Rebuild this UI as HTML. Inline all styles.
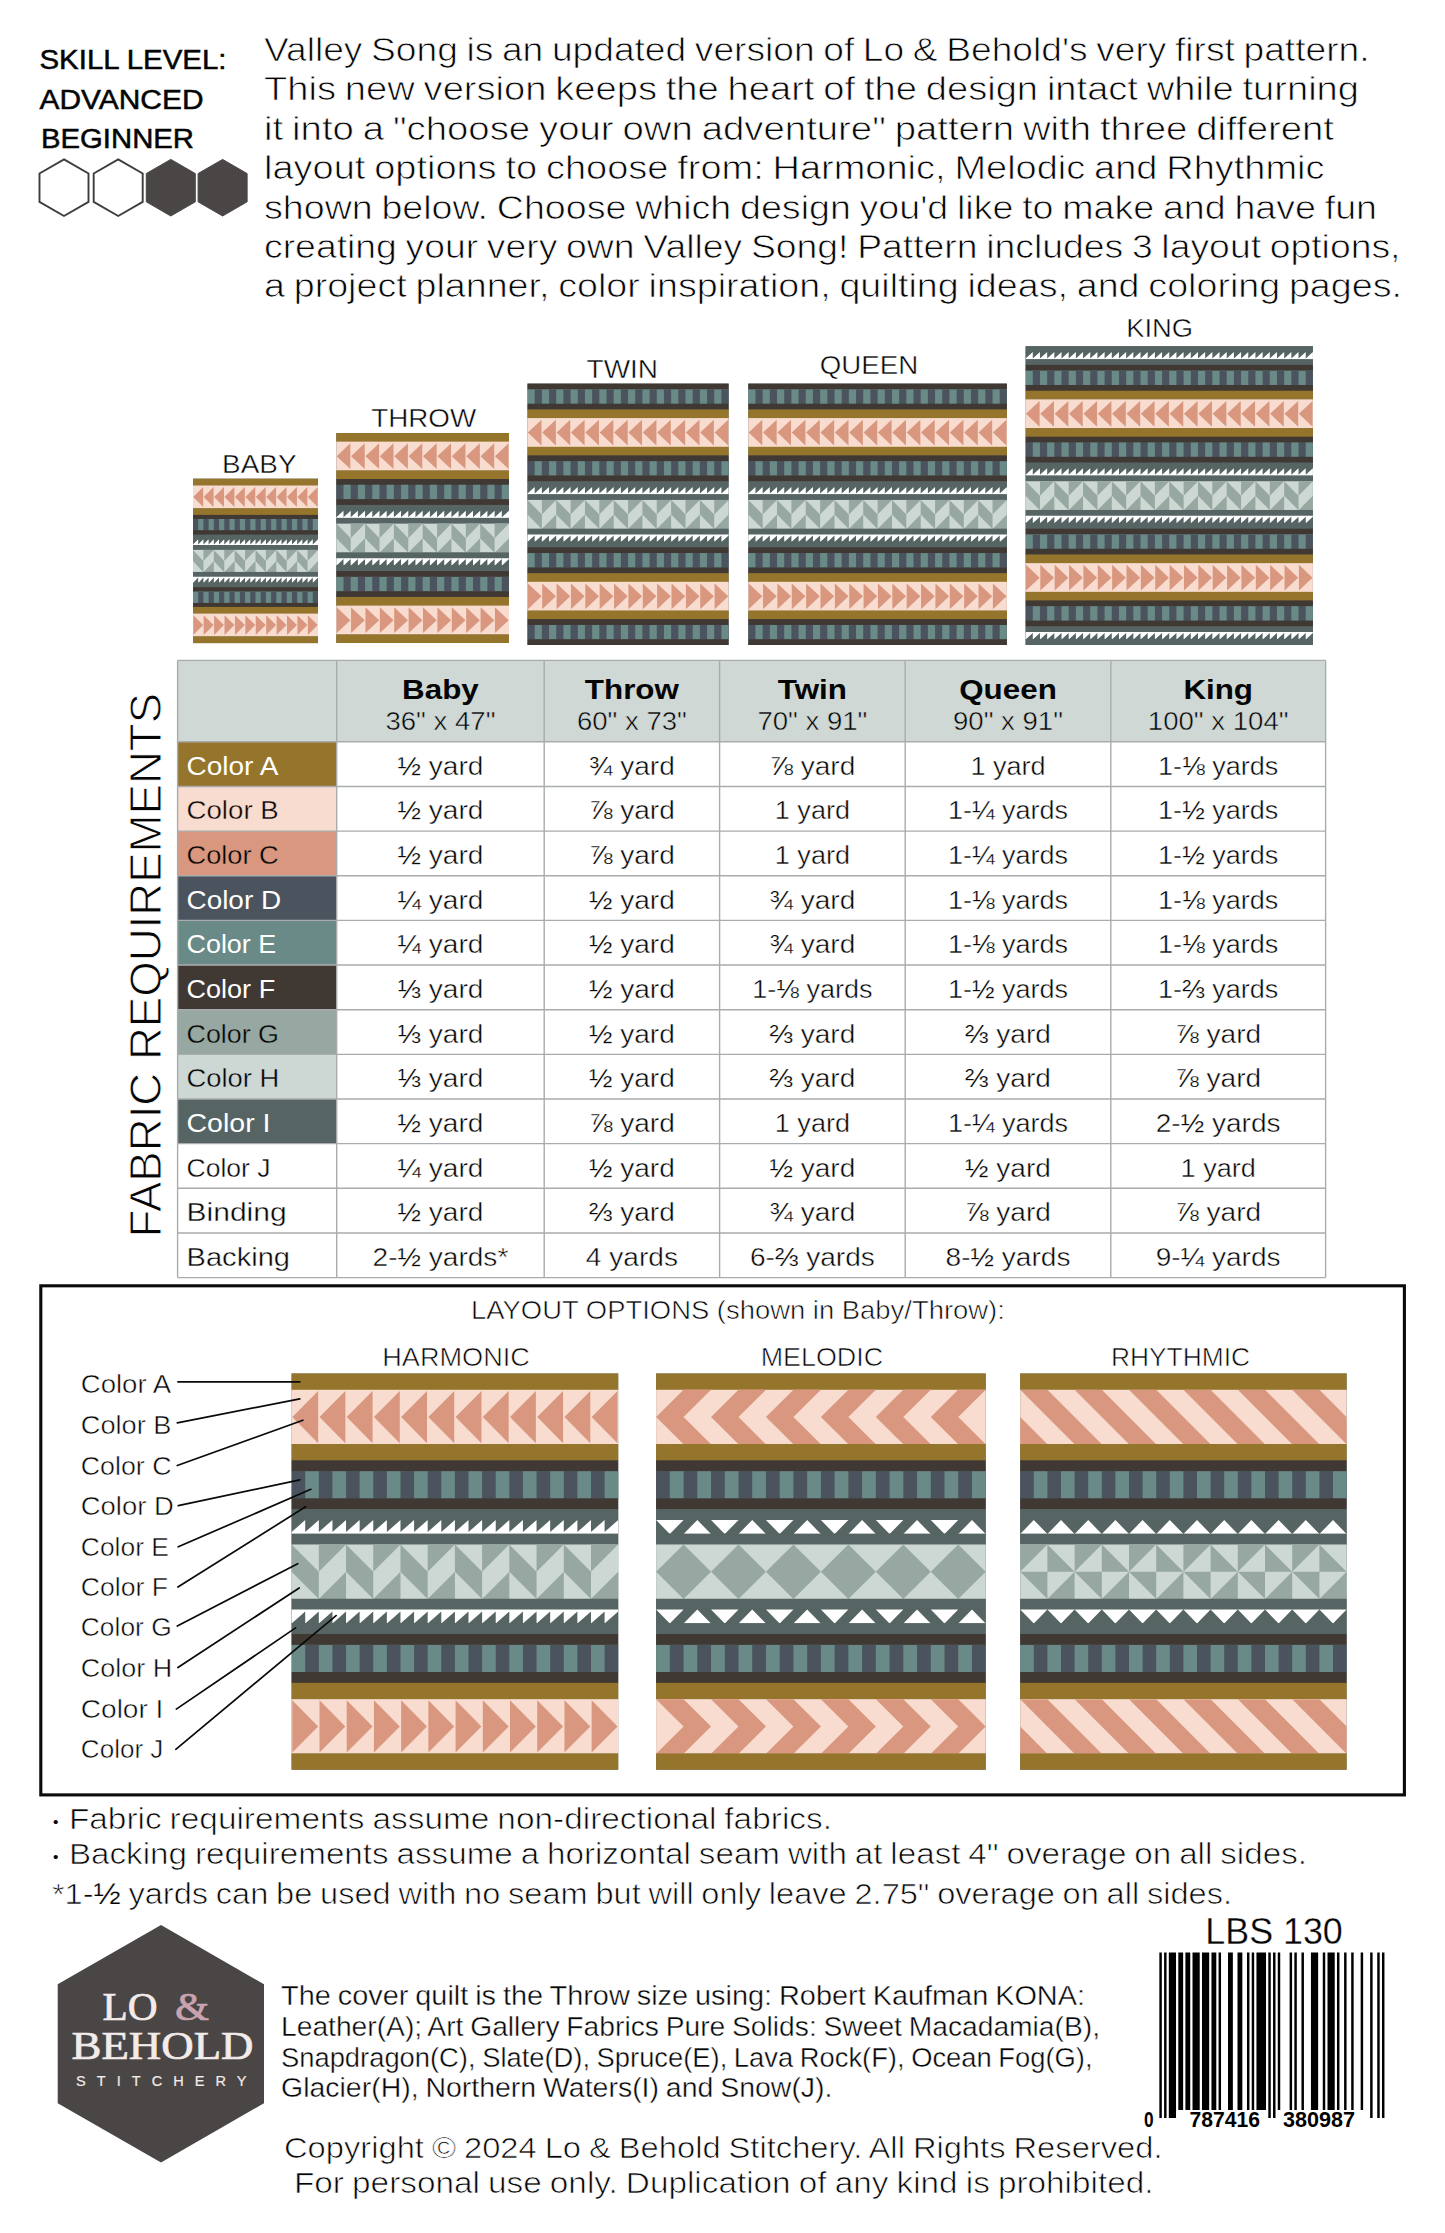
<!DOCTYPE html>
<html lang="en"><head><meta charset="utf-8"><title>Valley Song Quilt Pattern - Back Cover</title>
<style>html,body{margin:0;padding:0;background:#fff}body{width:1445px;height:2233px;overflow:hidden}svg{display:block}text{white-space:pre}</style>
</head><body>
<svg width="1445" height="2233" viewBox="0 0 1445 2233" font-family="Liberation Sans, Arial, sans-serif" fill="#050505">
<rect x="0" y="0" width="1445" height="2233" fill="#fff"/>
<g id="skill">
<text x="39.5" y="69" font-size="27" textLength="187" lengthAdjust="spacingAndGlyphs" stroke="#050505" stroke-width="0.5">SKILL LEVEL:</text>
<text x="39.5" y="108.7" font-size="27" textLength="164" lengthAdjust="spacingAndGlyphs" stroke="#050505" stroke-width="0.5">ADVANCED</text>
<text x="41" y="147.7" font-size="27" textLength="153" lengthAdjust="spacingAndGlyphs" stroke="#050505" stroke-width="0.5">BEGINNER</text>
<path d="M64 159.4 88.51 173.55 88.51 201.85 64 216 39.49 201.85 39.49 173.55Z" fill="#fff" stroke="#3f3c3c" stroke-width="1.9"/>
<path d="M118.2 159.4 142.71 173.55 142.71 201.85 118.2 216 93.69 201.85 93.69 173.55Z" fill="#fff" stroke="#3f3c3c" stroke-width="1.9"/>
<path d="M170.8 159.4 195.31 173.55 195.31 201.85 170.8 216 146.29 201.85 146.29 173.55Z" fill="#4A4646" stroke="#4A4646" stroke-width="1"/>
<path d="M222.6 159.4 247.11 173.55 247.11 201.85 222.6 216 198.09 201.85 198.09 173.55Z" fill="#4A4646" stroke="#4A4646" stroke-width="1"/>
</g>
<g id="intro">
<text x="264" y="60.7" font-size="33" textLength="1105.5" lengthAdjust="spacingAndGlyphs" word-spacing="-1.5" stroke="#fff" stroke-width="0.75">Valley Song is an updated version of Lo &amp; Behold's very first pattern.</text>
<text x="264" y="100.15" font-size="33" textLength="1095" lengthAdjust="spacingAndGlyphs" word-spacing="-1.5" stroke="#fff" stroke-width="0.75">This new version keeps the heart of the design intact while turning</text>
<text x="264" y="139.6" font-size="33" textLength="1070" lengthAdjust="spacingAndGlyphs" word-spacing="-1.5" stroke="#fff" stroke-width="0.75">it into a "choose your own adventure" pattern with three different</text>
<text x="264" y="179.05" font-size="33" textLength="1060.5" lengthAdjust="spacingAndGlyphs" word-spacing="-1.5" stroke="#fff" stroke-width="0.75">layout options to choose from: Harmonic, Melodic and Rhythmic</text>
<text x="264" y="218.5" font-size="33" textLength="1113" lengthAdjust="spacingAndGlyphs" word-spacing="-1.5" stroke="#fff" stroke-width="0.75">shown below. Choose which design you'd like to make and have fun</text>
<text x="264" y="257.95" font-size="33" textLength="1136.5" lengthAdjust="spacingAndGlyphs" word-spacing="-1.5" stroke="#fff" stroke-width="0.75">creating your very own Valley Song! Pattern includes 3 layout options,</text>
<text x="264" y="297.4" font-size="33" textLength="1138" lengthAdjust="spacingAndGlyphs" word-spacing="-1.5" stroke="#fff" stroke-width="0.75">a project planner, color inspiration, quilting ideas, and coloring pages.</text>
</g>
<g id="sizes">
<text x="259.3" y="472.6" font-size="26.2" text-anchor="middle" textLength="74.5" lengthAdjust="spacingAndGlyphs" stroke="#fff" stroke-width="0.45">BABY</text>
<text x="423.7" y="427.2" font-size="26.2" text-anchor="middle" textLength="105" lengthAdjust="spacingAndGlyphs" stroke="#fff" stroke-width="0.45">THROW</text>
<text x="622.3" y="378.2" font-size="26.2" text-anchor="middle" textLength="71.5" lengthAdjust="spacingAndGlyphs" stroke="#fff" stroke-width="0.45">TWIN</text>
<text x="869" y="374.2" font-size="26.2" text-anchor="middle" textLength="98.5" lengthAdjust="spacingAndGlyphs" stroke="#fff" stroke-width="0.45">QUEEN</text>
<text x="1159.7" y="337.4" font-size="26.2" text-anchor="middle" textLength="67" lengthAdjust="spacingAndGlyphs" stroke="#fff" stroke-width="0.45">KING</text>
<rect x="193" y="478.7" width="125" height="164.4" fill="#566564"/>
<rect x="193" y="478.7" width="125" height="7.08" fill="#95742B"/>
<rect x="193" y="485.48" width="125" height="23.03" fill="#F8DCCF"/>
<path d="M203.16 487.08 203.16 506.91 193.26 496.99ZM213.57 487.08 213.57 506.91 203.68 496.99ZM223.99 487.08 223.99 506.91 214.09 496.99ZM234.41 487.08 234.41 506.91 224.51 496.99ZM244.82 487.08 244.82 506.91 234.93 496.99ZM255.24 487.08 255.24 506.91 245.34 496.99ZM265.66 487.08 265.66 506.91 255.76 496.99ZM276.07 487.08 276.07 506.91 266.18 496.99ZM286.49 487.08 286.49 506.91 276.59 496.99ZM296.91 487.08 296.91 506.91 287.01 496.99ZM307.32 487.08 307.32 506.91 297.43 496.99ZM317.74 487.08 317.74 506.91 307.84 496.99Z" fill="#D9977F"/>
<rect x="193" y="508.21" width="125" height="6.98" fill="#95742B"/>
<rect x="193" y="514.89" width="125" height="4.29" fill="#403833"/>
<rect x="193" y="518.88" width="125" height="11.67" fill="#4B545E"/>
<path d="M198.21 518.88h5.21v11.67h-5.21zM208.62 518.88h5.21v11.67h-5.21zM219.04 518.88h5.21v11.67h-5.21zM229.46 518.88h5.21v11.67h-5.21zM239.88 518.88h5.21v11.67h-5.21zM250.29 518.88h5.21v11.67h-5.21zM260.71 518.88h5.21v11.67h-5.21zM271.12 518.88h5.21v11.67h-5.21zM281.54 518.88h5.21v11.67h-5.21zM291.96 518.88h5.21v11.67h-5.21zM302.38 518.88h5.21v11.67h-5.21zM312.79 518.88h5.21v11.67h-5.21z" fill="#698A86"/>
<rect x="193" y="530.24" width="125" height="4.69" fill="#403833"/>
<rect x="193" y="534.63" width="125" height="4.89" fill="#566564"/>
<rect x="193" y="539.22" width="125" height="6.08" fill="#566564"/>
<path d="M193 544.51h125v0.79h-125zM193 544.51 198.21 539.22 198.21 544.51ZM198.21 544.51 203.42 539.22 203.42 544.51ZM203.42 544.51 208.62 539.22 208.62 544.51ZM208.62 544.51 213.83 539.22 213.83 544.51ZM213.83 544.51 219.04 539.22 219.04 544.51ZM219.04 544.51 224.25 539.22 224.25 544.51ZM224.25 544.51 229.46 539.22 229.46 544.51ZM229.46 544.51 234.67 539.22 234.67 544.51ZM234.67 544.51 239.88 539.22 239.88 544.51ZM239.88 544.51 245.08 539.22 245.08 544.51ZM245.08 544.51 250.29 539.22 250.29 544.51ZM250.29 544.51 255.5 539.22 255.5 544.51ZM255.5 544.51 260.71 539.22 260.71 544.51ZM260.71 544.51 265.92 539.22 265.92 544.51ZM265.92 544.51 271.12 539.22 271.12 544.51ZM271.12 544.51 276.33 539.22 276.33 544.51ZM276.33 544.51 281.54 539.22 281.54 544.51ZM281.54 544.51 286.75 539.22 286.75 544.51ZM286.75 544.51 291.96 539.22 291.96 544.51ZM291.96 544.51 297.17 539.22 297.17 544.51ZM297.17 544.51 302.37 539.22 302.37 544.51ZM302.38 544.51 307.58 539.22 307.58 544.51ZM307.58 544.51 312.79 539.22 312.79 544.51ZM312.79 544.51 318 539.22 318 544.51Z" fill="#FFFFFF"/>
<rect x="193" y="545" width="125" height="5.19" fill="#566564"/>
<rect x="193" y="549.88" width="125" height="22.33" fill="#CDD8D5"/>
<path d="M193 549.88 203.42 561.05 203.42 572.22 193 561.05ZM203.42 549.88 213.83 549.88 203.42 561.05ZM213.83 561.05 213.83 572.22 203.42 572.22ZM213.83 549.88 224.25 561.05 224.25 572.22 213.83 561.05ZM224.25 549.88 234.67 549.88 224.25 561.05ZM234.67 561.05 234.67 572.22 224.25 572.22ZM234.67 549.88 245.08 561.05 245.08 572.22 234.67 561.05ZM245.08 549.88 255.5 549.88 245.08 561.05ZM255.5 561.05 255.5 572.22 245.08 572.22ZM255.5 549.88 265.92 561.05 265.92 572.22 255.5 561.05ZM265.92 549.88 276.33 549.88 265.92 561.05ZM276.33 561.05 276.33 572.22 265.92 572.22ZM276.33 549.88 286.75 561.05 286.75 572.22 276.33 561.05ZM286.75 549.88 297.17 549.88 286.75 561.05ZM297.17 561.05 297.17 572.22 286.75 572.22ZM297.17 549.88 307.58 561.05 307.58 572.22 297.17 561.05ZM307.58 549.88 318 549.88 307.58 561.05ZM318 561.05 318 572.22 307.58 572.22Z" fill="#97A7A2"/>
<rect x="193" y="571.92" width="125" height="5.19" fill="#566564"/>
<rect x="193" y="576.8" width="125" height="6.08" fill="#566564"/>
<path d="M193 576.8h125v0.79h-125zM193 577.59 198.21 577.59 193 582.88ZM198.21 577.59 203.42 577.59 198.21 582.88ZM203.42 577.59 208.62 577.59 203.42 582.88ZM208.62 577.59 213.83 577.59 208.62 582.88ZM213.83 577.59 219.04 577.59 213.83 582.88ZM219.04 577.59 224.25 577.59 219.04 582.88ZM224.25 577.59 229.46 577.59 224.25 582.88ZM229.46 577.59 234.67 577.59 229.46 582.88ZM234.67 577.59 239.88 577.59 234.67 582.88ZM239.88 577.59 245.08 577.59 239.88 582.88ZM245.08 577.59 250.29 577.59 245.08 582.88ZM250.29 577.59 255.5 577.59 250.29 582.88ZM255.5 577.59 260.71 577.59 255.5 582.88ZM260.71 577.59 265.92 577.59 260.71 582.88ZM265.92 577.59 271.12 577.59 265.92 582.88ZM271.12 577.59 276.33 577.59 271.12 582.88ZM276.33 577.59 281.54 577.59 276.33 582.88ZM281.54 577.59 286.75 577.59 281.54 582.88ZM286.75 577.59 291.96 577.59 286.75 582.88ZM291.96 577.59 297.17 577.59 291.96 582.88ZM297.17 577.59 302.37 577.59 297.17 582.88ZM302.38 577.59 307.58 577.59 302.38 582.88ZM307.58 577.59 312.79 577.59 307.58 582.88ZM312.79 577.59 318 577.59 312.79 582.88Z" fill="#FFFFFF"/>
<rect x="193" y="582.58" width="125" height="4.89" fill="#566564"/>
<rect x="193" y="587.17" width="125" height="4.69" fill="#403833"/>
<rect x="193" y="591.56" width="125" height="11.67" fill="#698A86"/>
<path d="M198.21 591.56h5.21v11.67h-5.21zM208.62 591.56h5.21v11.67h-5.21zM219.04 591.56h5.21v11.67h-5.21zM229.46 591.56h5.21v11.67h-5.21zM239.88 591.56h5.21v11.67h-5.21zM250.29 591.56h5.21v11.67h-5.21zM260.71 591.56h5.21v11.67h-5.21zM271.12 591.56h5.21v11.67h-5.21zM281.54 591.56h5.21v11.67h-5.21zM291.96 591.56h5.21v11.67h-5.21zM302.38 591.56h5.21v11.67h-5.21zM312.79 591.56h5.21v11.67h-5.21z" fill="#4B545E"/>
<rect x="193" y="602.92" width="125" height="4.29" fill="#403833"/>
<rect x="193" y="606.91" width="125" height="6.98" fill="#95742B"/>
<rect x="193" y="613.59" width="125" height="23.03" fill="#F8DCCF"/>
<path d="M193.26 615.19 193.26 635.02 203.16 625.11ZM203.68 615.19 203.68 635.02 213.57 625.11ZM214.09 615.19 214.09 635.02 223.99 625.11ZM224.51 615.19 224.51 635.02 234.41 625.11ZM234.93 615.19 234.93 635.02 244.82 625.11ZM245.34 615.19 245.34 635.02 255.24 625.11ZM255.76 615.19 255.76 635.02 265.66 625.11ZM266.18 615.19 266.18 635.02 276.07 625.11ZM276.59 615.19 276.59 635.02 286.49 625.11ZM287.01 615.19 287.01 635.02 296.91 625.11ZM297.43 615.19 297.43 635.02 307.32 625.11ZM307.84 615.19 307.84 635.02 317.74 625.11Z" fill="#D9977F"/>
<rect x="193" y="636.32" width="125" height="6.78" fill="#95742B"/>
<rect x="336.3" y="433" width="172.7" height="210" fill="#566564"/>
<rect x="336.3" y="433" width="172.7" height="8.93" fill="#95742B"/>
<rect x="336.3" y="441.63" width="172.7" height="29.07" fill="#F8DCCF"/>
<path d="M350.33 443.23 350.33 469.1 336.66 456.16ZM364.72 443.23 364.72 469.1 351.05 456.16ZM379.12 443.23 379.12 469.1 365.44 456.16ZM393.51 443.23 393.51 469.1 379.83 456.16ZM407.9 443.23 407.9 469.1 394.23 456.16ZM422.29 443.23 422.29 469.1 408.62 456.16ZM436.68 443.23 436.68 469.1 423.01 456.16ZM451.07 443.23 451.07 469.1 437.4 456.16ZM465.47 443.23 465.47 469.1 451.79 456.16ZM479.86 443.23 479.86 469.1 466.18 456.16ZM494.25 443.23 494.25 469.1 480.58 456.16ZM508.64 443.23 508.64 469.1 494.97 456.16Z" fill="#D9977F"/>
<rect x="336.3" y="470.4" width="172.7" height="8.93" fill="#95742B"/>
<rect x="336.3" y="479.03" width="172.7" height="6.05" fill="#403833"/>
<rect x="336.3" y="484.78" width="172.7" height="14.68" fill="#4B545E"/>
<path d="M343.5 484.78h7.2v14.68h-7.2zM357.89 484.78h7.2v14.68h-7.2zM372.28 484.78h7.2v14.68h-7.2zM386.67 484.78h7.2v14.68h-7.2zM401.06 484.78h7.2v14.68h-7.2zM415.45 484.78h7.2v14.68h-7.2zM429.85 484.78h7.2v14.68h-7.2zM444.24 484.78h7.2v14.68h-7.2zM458.63 484.78h7.2v14.68h-7.2zM473.02 484.78h7.2v14.68h-7.2zM487.41 484.78h7.2v14.68h-7.2zM501.8 484.78h7.2v14.68h-7.2z" fill="#698A86"/>
<rect x="336.3" y="499.16" width="172.7" height="6.05" fill="#403833"/>
<rect x="336.3" y="504.92" width="172.7" height="6.05" fill="#566564"/>
<rect x="336.3" y="510.67" width="172.7" height="7.49" fill="#566564"/>
<path d="M336.3 517.19h172.7v0.97h-172.7zM336.3 517.19 343.5 510.67 343.5 517.19ZM343.5 517.19 350.69 510.67 350.69 517.19ZM350.69 517.19 357.89 510.67 357.89 517.19ZM357.89 517.19 365.08 510.67 365.08 517.19ZM365.08 517.19 372.28 510.67 372.28 517.19ZM372.28 517.19 379.48 510.67 379.48 517.19ZM379.48 517.19 386.67 510.67 386.67 517.19ZM386.67 517.19 393.87 510.67 393.87 517.19ZM393.87 517.19 401.06 510.67 401.06 517.19ZM401.06 517.19 408.26 510.67 408.26 517.19ZM408.26 517.19 415.45 510.67 415.45 517.19ZM415.45 517.19 422.65 510.67 422.65 517.19ZM422.65 517.19 429.85 510.67 429.85 517.19ZM429.85 517.19 437.04 510.67 437.04 517.19ZM437.04 517.19 444.24 510.67 444.24 517.19ZM444.24 517.19 451.43 510.67 451.43 517.19ZM451.43 517.19 458.63 510.67 458.63 517.19ZM458.63 517.19 465.82 510.67 465.82 517.19ZM465.82 517.19 473.02 510.67 473.02 517.19ZM473.02 517.19 480.22 510.67 480.22 517.19ZM480.22 517.19 487.41 510.67 487.41 517.19ZM487.41 517.19 494.61 510.67 494.61 517.19ZM494.61 517.19 501.8 510.67 501.8 517.19ZM501.8 517.19 509 510.67 509 517.19Z" fill="#FFFFFF"/>
<rect x="336.3" y="517.86" width="172.7" height="6.05" fill="#566564"/>
<rect x="336.3" y="523.62" width="172.7" height="29.07" fill="#CDD8D5"/>
<path d="M336.3 523.62 350.69 538.15 350.69 552.68 336.3 538.15ZM350.69 523.62 365.08 523.62 350.69 538.15ZM365.08 538.15 365.08 552.68 350.69 552.68ZM365.08 523.62 379.48 538.15 379.48 552.68 365.08 538.15ZM379.48 523.62 393.87 523.62 379.48 538.15ZM393.87 538.15 393.87 552.68 379.48 552.68ZM393.87 523.62 408.26 538.15 408.26 552.68 393.87 538.15ZM408.26 523.62 422.65 523.62 408.26 538.15ZM422.65 538.15 422.65 552.68 408.26 552.68ZM422.65 523.62 437.04 538.15 437.04 552.68 422.65 538.15ZM437.04 523.62 451.43 523.62 437.04 538.15ZM451.43 538.15 451.43 552.68 437.04 552.68ZM451.43 523.62 465.82 538.15 465.82 552.68 451.43 538.15ZM465.82 523.62 480.22 523.62 465.82 538.15ZM480.22 538.15 480.22 552.68 465.82 552.68ZM480.22 523.62 494.61 538.15 494.61 552.68 480.22 538.15ZM494.61 523.62 509 523.62 494.61 538.15ZM509 538.15 509 552.68 494.61 552.68Z" fill="#97A7A2"/>
<rect x="336.3" y="552.38" width="172.7" height="6.05" fill="#566564"/>
<rect x="336.3" y="558.14" width="172.7" height="7.49" fill="#566564"/>
<path d="M336.3 558.14h172.7v0.97h-172.7zM336.3 559.11 343.5 559.11 336.3 565.63ZM343.5 559.11 350.69 559.11 343.5 565.63ZM350.69 559.11 357.89 559.11 350.69 565.63ZM357.89 559.11 365.08 559.11 357.89 565.63ZM365.08 559.11 372.28 559.11 365.08 565.63ZM372.28 559.11 379.48 559.11 372.28 565.63ZM379.48 559.11 386.67 559.11 379.48 565.63ZM386.67 559.11 393.87 559.11 386.67 565.63ZM393.87 559.11 401.06 559.11 393.87 565.63ZM401.06 559.11 408.26 559.11 401.06 565.63ZM408.26 559.11 415.45 559.11 408.26 565.63ZM415.45 559.11 422.65 559.11 415.45 565.63ZM422.65 559.11 429.85 559.11 422.65 565.63ZM429.85 559.11 437.04 559.11 429.85 565.63ZM437.04 559.11 444.24 559.11 437.04 565.63ZM444.24 559.11 451.43 559.11 444.24 565.63ZM451.43 559.11 458.63 559.11 451.43 565.63ZM458.63 559.11 465.82 559.11 458.63 565.63ZM465.82 559.11 473.02 559.11 465.82 565.63ZM473.02 559.11 480.22 559.11 473.02 565.63ZM480.22 559.11 487.41 559.11 480.22 565.63ZM487.41 559.11 494.61 559.11 487.41 565.63ZM494.61 559.11 501.8 559.11 494.61 565.63ZM501.8 559.11 509 559.11 501.8 565.63Z" fill="#FFFFFF"/>
<rect x="336.3" y="565.33" width="172.7" height="6.05" fill="#566564"/>
<rect x="336.3" y="571.08" width="172.7" height="6.05" fill="#403833"/>
<rect x="336.3" y="576.84" width="172.7" height="14.68" fill="#698A86"/>
<path d="M343.5 576.84h7.2v14.68h-7.2zM357.89 576.84h7.2v14.68h-7.2zM372.28 576.84h7.2v14.68h-7.2zM386.67 576.84h7.2v14.68h-7.2zM401.06 576.84h7.2v14.68h-7.2zM415.45 576.84h7.2v14.68h-7.2zM429.85 576.84h7.2v14.68h-7.2zM444.24 576.84h7.2v14.68h-7.2zM458.63 576.84h7.2v14.68h-7.2zM473.02 576.84h7.2v14.68h-7.2zM487.41 576.84h7.2v14.68h-7.2zM501.8 576.84h7.2v14.68h-7.2z" fill="#4B545E"/>
<rect x="336.3" y="591.22" width="172.7" height="6.05" fill="#403833"/>
<rect x="336.3" y="596.97" width="172.7" height="8.93" fill="#95742B"/>
<rect x="336.3" y="605.6" width="172.7" height="29.07" fill="#F8DCCF"/>
<path d="M336.66 607.2 336.66 633.07 350.33 620.14ZM351.05 607.2 351.05 633.07 364.72 620.14ZM365.44 607.2 365.44 633.07 379.12 620.14ZM379.83 607.2 379.83 633.07 393.51 620.14ZM394.23 607.2 394.23 633.07 407.9 620.14ZM408.62 607.2 408.62 633.07 422.29 620.14ZM423.01 607.2 423.01 633.07 436.68 620.14ZM437.4 607.2 437.4 633.07 451.07 620.14ZM451.79 607.2 451.79 633.07 465.47 620.14ZM466.18 607.2 466.18 633.07 479.86 620.14ZM480.58 607.2 480.58 633.07 494.25 620.14ZM494.97 607.2 494.97 633.07 508.64 620.14Z" fill="#D9977F"/>
<rect x="336.3" y="634.37" width="172.7" height="8.63" fill="#95742B"/>
<rect x="527.5" y="383.6" width="201.1" height="261.4" fill="#566564"/>
<rect x="527.5" y="383.6" width="201.1" height="6.05" fill="#403833"/>
<rect x="527.5" y="389.35" width="201.1" height="14.66" fill="#698A86"/>
<path d="M534.68 389.35h7.18v14.66h-7.18zM549.05 389.35h7.18v14.66h-7.18zM563.41 389.35h7.18v14.66h-7.18zM577.77 389.35h7.18v14.66h-7.18zM592.14 389.35h7.18v14.66h-7.18zM606.5 389.35h7.18v14.66h-7.18zM620.87 389.35h7.18v14.66h-7.18zM635.23 389.35h7.18v14.66h-7.18zM649.6 389.35h7.18v14.66h-7.18zM663.96 389.35h7.18v14.66h-7.18zM678.33 389.35h7.18v14.66h-7.18zM692.69 389.35h7.18v14.66h-7.18zM707.05 389.35h7.18v14.66h-7.18zM721.42 389.35h7.18v14.66h-7.18z" fill="#4B545E"/>
<rect x="527.5" y="403.71" width="201.1" height="6.05" fill="#403833"/>
<rect x="527.5" y="409.45" width="201.1" height="8.92" fill="#95742B"/>
<rect x="527.5" y="418.07" width="201.1" height="29.03" fill="#F8DCCF"/>
<path d="M541.51 419.67 541.51 445.5 527.86 432.58ZM555.87 419.67 555.87 445.5 542.22 432.58ZM570.23 419.67 570.23 445.5 556.59 432.58ZM584.6 419.67 584.6 445.5 570.95 432.58ZM598.96 419.67 598.96 445.5 585.32 432.58ZM613.33 419.67 613.33 445.5 599.68 432.58ZM627.69 419.67 627.69 445.5 614.04 432.58ZM642.06 419.67 642.06 445.5 628.41 432.58ZM656.42 419.67 656.42 445.5 642.77 432.58ZM670.78 419.67 670.78 445.5 657.14 432.58ZM685.15 419.67 685.15 445.5 671.5 432.58ZM699.51 419.67 699.51 445.5 685.87 432.58ZM713.88 419.67 713.88 445.5 700.23 432.58ZM728.24 419.67 728.24 445.5 714.59 432.58Z" fill="#D9977F"/>
<rect x="527.5" y="446.8" width="201.1" height="8.92" fill="#95742B"/>
<rect x="527.5" y="455.41" width="201.1" height="6.05" fill="#403833"/>
<rect x="527.5" y="461.16" width="201.1" height="14.66" fill="#4B545E"/>
<path d="M534.68 461.16h7.18v14.66h-7.18zM549.05 461.16h7.18v14.66h-7.18zM563.41 461.16h7.18v14.66h-7.18zM577.77 461.16h7.18v14.66h-7.18zM592.14 461.16h7.18v14.66h-7.18zM606.5 461.16h7.18v14.66h-7.18zM620.87 461.16h7.18v14.66h-7.18zM635.23 461.16h7.18v14.66h-7.18zM649.6 461.16h7.18v14.66h-7.18zM663.96 461.16h7.18v14.66h-7.18zM678.33 461.16h7.18v14.66h-7.18zM692.69 461.16h7.18v14.66h-7.18zM707.05 461.16h7.18v14.66h-7.18zM721.42 461.16h7.18v14.66h-7.18z" fill="#698A86"/>
<rect x="527.5" y="475.52" width="201.1" height="6.05" fill="#403833"/>
<rect x="527.5" y="481.27" width="201.1" height="6.05" fill="#566564"/>
<rect x="527.5" y="487.01" width="201.1" height="7.48" fill="#566564"/>
<path d="M527.5 493.52h201.1v0.97h-201.1zM527.5 493.52 534.68 487.01 534.68 493.52ZM534.68 493.52 541.86 487.01 541.86 493.52ZM541.86 493.52 549.05 487.01 549.05 493.52ZM549.05 493.52 556.23 487.01 556.23 493.52ZM556.23 493.52 563.41 487.01 563.41 493.52ZM563.41 493.52 570.59 487.01 570.59 493.52ZM570.59 493.52 577.77 487.01 577.77 493.52ZM577.77 493.52 584.96 487.01 584.96 493.52ZM584.96 493.52 592.14 487.01 592.14 493.52ZM592.14 493.52 599.32 487.01 599.32 493.52ZM599.32 493.52 606.5 487.01 606.5 493.52ZM606.5 493.52 613.69 487.01 613.69 493.52ZM613.69 493.52 620.87 487.01 620.87 493.52ZM620.87 493.52 628.05 487.01 628.05 493.52ZM628.05 493.52 635.23 487.01 635.23 493.52ZM635.23 493.52 642.41 487.01 642.41 493.52ZM642.41 493.52 649.6 487.01 649.6 493.52ZM649.6 493.52 656.78 487.01 656.78 493.52ZM656.78 493.52 663.96 487.01 663.96 493.52ZM663.96 493.52 671.14 487.01 671.14 493.52ZM671.14 493.52 678.32 487.01 678.32 493.52ZM678.33 493.52 685.51 487.01 685.51 493.52ZM685.51 493.52 692.69 487.01 692.69 493.52ZM692.69 493.52 699.87 487.01 699.87 493.52ZM699.87 493.52 707.05 487.01 707.05 493.52ZM707.05 493.52 714.24 487.01 714.24 493.52ZM714.24 493.52 721.42 487.01 721.42 493.52ZM721.42 493.52 728.6 487.01 728.6 493.52Z" fill="#FFFFFF"/>
<rect x="527.5" y="494.19" width="201.1" height="6.05" fill="#566564"/>
<rect x="527.5" y="499.94" width="201.1" height="29.03" fill="#CDD8D5"/>
<path d="M527.5 499.94 541.86 514.45 541.86 528.96 527.5 514.45ZM541.86 499.94 556.23 499.94 541.86 514.45ZM556.23 514.45 556.23 528.96 541.86 528.96ZM556.23 499.94 570.59 514.45 570.59 528.96 556.23 514.45ZM570.59 499.94 584.96 499.94 570.59 514.45ZM584.96 514.45 584.96 528.96 570.59 528.96ZM584.96 499.94 599.32 514.45 599.32 528.96 584.96 514.45ZM599.32 499.94 613.69 499.94 599.32 514.45ZM613.69 514.45 613.69 528.96 599.32 528.96ZM613.69 499.94 628.05 514.45 628.05 528.96 613.69 514.45ZM628.05 499.94 642.41 499.94 628.05 514.45ZM642.41 514.45 642.41 528.96 628.05 528.96ZM642.41 499.94 656.78 514.45 656.78 528.96 642.41 514.45ZM656.78 499.94 671.14 499.94 656.78 514.45ZM671.14 514.45 671.14 528.96 656.78 528.96ZM671.14 499.94 685.51 514.45 685.51 528.96 671.14 514.45ZM685.51 499.94 699.87 499.94 685.51 514.45ZM699.87 514.45 699.87 528.96 685.51 528.96ZM699.87 499.94 714.24 514.45 714.24 528.96 699.87 514.45ZM714.24 499.94 728.6 499.94 714.24 514.45ZM728.6 514.45 728.6 528.96 714.24 528.96Z" fill="#97A7A2"/>
<rect x="527.5" y="528.66" width="201.1" height="6.05" fill="#566564"/>
<rect x="527.5" y="534.41" width="201.1" height="7.48" fill="#566564"/>
<path d="M527.5 534.41h201.1v0.97h-201.1zM527.5 535.38 534.68 535.38 527.5 541.89ZM534.68 535.38 541.86 535.38 534.68 541.89ZM541.86 535.38 549.05 535.38 541.86 541.89ZM549.05 535.38 556.23 535.38 549.05 541.89ZM556.23 535.38 563.41 535.38 556.23 541.89ZM563.41 535.38 570.59 535.38 563.41 541.89ZM570.59 535.38 577.77 535.38 570.59 541.89ZM577.77 535.38 584.96 535.38 577.77 541.89ZM584.96 535.38 592.14 535.38 584.96 541.89ZM592.14 535.38 599.32 535.38 592.14 541.89ZM599.32 535.38 606.5 535.38 599.32 541.89ZM606.5 535.38 613.69 535.38 606.5 541.89ZM613.69 535.38 620.87 535.38 613.69 541.89ZM620.87 535.38 628.05 535.38 620.87 541.89ZM628.05 535.38 635.23 535.38 628.05 541.89ZM635.23 535.38 642.41 535.38 635.23 541.89ZM642.41 535.38 649.6 535.38 642.41 541.89ZM649.6 535.38 656.78 535.38 649.6 541.89ZM656.78 535.38 663.96 535.38 656.78 541.89ZM663.96 535.38 671.14 535.38 663.96 541.89ZM671.14 535.38 678.32 535.38 671.14 541.89ZM678.33 535.38 685.51 535.38 678.33 541.89ZM685.51 535.38 692.69 535.38 685.51 541.89ZM692.69 535.38 699.87 535.38 692.69 541.89ZM699.87 535.38 707.05 535.38 699.87 541.89ZM707.05 535.38 714.24 535.38 707.05 541.89ZM714.24 535.38 721.42 535.38 714.24 541.89ZM721.42 535.38 728.6 535.38 721.42 541.89Z" fill="#FFFFFF"/>
<rect x="527.5" y="541.59" width="201.1" height="6.05" fill="#566564"/>
<rect x="527.5" y="547.33" width="201.1" height="6.05" fill="#403833"/>
<rect x="527.5" y="553.08" width="201.1" height="14.66" fill="#698A86"/>
<path d="M534.68 553.08h7.18v14.66h-7.18zM549.05 553.08h7.18v14.66h-7.18zM563.41 553.08h7.18v14.66h-7.18zM577.77 553.08h7.18v14.66h-7.18zM592.14 553.08h7.18v14.66h-7.18zM606.5 553.08h7.18v14.66h-7.18zM620.87 553.08h7.18v14.66h-7.18zM635.23 553.08h7.18v14.66h-7.18zM649.6 553.08h7.18v14.66h-7.18zM663.96 553.08h7.18v14.66h-7.18zM678.33 553.08h7.18v14.66h-7.18zM692.69 553.08h7.18v14.66h-7.18zM707.05 553.08h7.18v14.66h-7.18zM721.42 553.08h7.18v14.66h-7.18z" fill="#4B545E"/>
<rect x="527.5" y="567.44" width="201.1" height="6.05" fill="#403833"/>
<rect x="527.5" y="573.19" width="201.1" height="8.92" fill="#95742B"/>
<rect x="527.5" y="581.8" width="201.1" height="29.03" fill="#F8DCCF"/>
<path d="M527.86 583.4 527.86 609.23 541.51 596.32ZM542.22 583.4 542.22 609.23 555.87 596.32ZM556.59 583.4 556.59 609.23 570.23 596.32ZM570.95 583.4 570.95 609.23 584.6 596.32ZM585.32 583.4 585.32 609.23 598.96 596.32ZM599.68 583.4 599.68 609.23 613.33 596.32ZM614.04 583.4 614.04 609.23 627.69 596.32ZM628.41 583.4 628.41 609.23 642.06 596.32ZM642.77 583.4 642.77 609.23 656.42 596.32ZM657.14 583.4 657.14 609.23 670.78 596.32ZM671.5 583.4 671.5 609.23 685.15 596.32ZM685.87 583.4 685.87 609.23 699.51 596.32ZM700.23 583.4 700.23 609.23 713.88 596.32ZM714.59 583.4 714.59 609.23 728.24 596.32Z" fill="#D9977F"/>
<rect x="527.5" y="610.53" width="201.1" height="8.92" fill="#95742B"/>
<rect x="527.5" y="619.15" width="201.1" height="6.05" fill="#403833"/>
<rect x="527.5" y="624.89" width="201.1" height="14.66" fill="#4B545E"/>
<path d="M534.68 624.89h7.18v14.66h-7.18zM549.05 624.89h7.18v14.66h-7.18zM563.41 624.89h7.18v14.66h-7.18zM577.77 624.89h7.18v14.66h-7.18zM592.14 624.89h7.18v14.66h-7.18zM606.5 624.89h7.18v14.66h-7.18zM620.87 624.89h7.18v14.66h-7.18zM635.23 624.89h7.18v14.66h-7.18zM649.6 624.89h7.18v14.66h-7.18zM663.96 624.89h7.18v14.66h-7.18zM678.33 624.89h7.18v14.66h-7.18zM692.69 624.89h7.18v14.66h-7.18zM707.05 624.89h7.18v14.66h-7.18zM721.42 624.89h7.18v14.66h-7.18z" fill="#698A86"/>
<rect x="527.5" y="639.25" width="201.1" height="5.75" fill="#403833"/>
<rect x="748.3" y="383.6" width="258.6" height="261.4" fill="#566564"/>
<rect x="748.3" y="383.6" width="258.6" height="6.05" fill="#403833"/>
<rect x="748.3" y="389.35" width="258.6" height="14.66" fill="#698A86"/>
<path d="M755.48 389.35h7.18v14.66h-7.18zM769.85 389.35h7.18v14.66h-7.18zM784.22 389.35h7.18v14.66h-7.18zM798.58 389.35h7.18v14.66h-7.18zM812.95 389.35h7.18v14.66h-7.18zM827.32 389.35h7.18v14.66h-7.18zM841.68 389.35h7.18v14.66h-7.18zM856.05 389.35h7.18v14.66h-7.18zM870.42 389.35h7.18v14.66h-7.18zM884.78 389.35h7.18v14.66h-7.18zM899.15 389.35h7.18v14.66h-7.18zM913.52 389.35h7.18v14.66h-7.18zM927.88 389.35h7.18v14.66h-7.18zM942.25 389.35h7.18v14.66h-7.18zM956.62 389.35h7.18v14.66h-7.18zM970.98 389.35h7.18v14.66h-7.18zM985.35 389.35h7.18v14.66h-7.18zM999.72 389.35h7.18v14.66h-7.18z" fill="#4B545E"/>
<rect x="748.3" y="403.71" width="258.6" height="6.05" fill="#403833"/>
<rect x="748.3" y="409.45" width="258.6" height="8.92" fill="#95742B"/>
<rect x="748.3" y="418.07" width="258.6" height="29.03" fill="#F8DCCF"/>
<path d="M762.31 419.67 762.31 445.5 748.66 432.58ZM776.67 419.67 776.67 445.5 763.03 432.58ZM791.04 419.67 791.04 445.5 777.39 432.58ZM805.41 419.67 805.41 445.5 791.76 432.58ZM819.77 419.67 819.77 445.5 806.13 432.58ZM834.14 419.67 834.14 445.5 820.49 432.58ZM848.51 419.67 848.51 445.5 834.86 432.58ZM862.87 419.67 862.87 445.5 849.23 432.58ZM877.24 419.67 877.24 445.5 863.59 432.58ZM891.61 419.67 891.61 445.5 877.96 432.58ZM905.97 419.67 905.97 445.5 892.33 432.58ZM920.34 419.67 920.34 445.5 906.69 432.58ZM934.71 419.67 934.71 445.5 921.06 432.58ZM949.07 419.67 949.07 445.5 935.43 432.58ZM963.44 419.67 963.44 445.5 949.79 432.58ZM977.81 419.67 977.81 445.5 964.16 432.58ZM992.17 419.67 992.17 445.5 978.53 432.58ZM1006.54 419.67 1006.54 445.5 992.89 432.58Z" fill="#D9977F"/>
<rect x="748.3" y="446.8" width="258.6" height="8.92" fill="#95742B"/>
<rect x="748.3" y="455.41" width="258.6" height="6.05" fill="#403833"/>
<rect x="748.3" y="461.16" width="258.6" height="14.66" fill="#4B545E"/>
<path d="M755.48 461.16h7.18v14.66h-7.18zM769.85 461.16h7.18v14.66h-7.18zM784.22 461.16h7.18v14.66h-7.18zM798.58 461.16h7.18v14.66h-7.18zM812.95 461.16h7.18v14.66h-7.18zM827.32 461.16h7.18v14.66h-7.18zM841.68 461.16h7.18v14.66h-7.18zM856.05 461.16h7.18v14.66h-7.18zM870.42 461.16h7.18v14.66h-7.18zM884.78 461.16h7.18v14.66h-7.18zM899.15 461.16h7.18v14.66h-7.18zM913.52 461.16h7.18v14.66h-7.18zM927.88 461.16h7.18v14.66h-7.18zM942.25 461.16h7.18v14.66h-7.18zM956.62 461.16h7.18v14.66h-7.18zM970.98 461.16h7.18v14.66h-7.18zM985.35 461.16h7.18v14.66h-7.18zM999.72 461.16h7.18v14.66h-7.18z" fill="#698A86"/>
<rect x="748.3" y="475.52" width="258.6" height="6.05" fill="#403833"/>
<rect x="748.3" y="481.27" width="258.6" height="6.05" fill="#566564"/>
<rect x="748.3" y="487.01" width="258.6" height="7.48" fill="#566564"/>
<path d="M748.3 493.52h258.6v0.97h-258.6zM748.3 493.52 755.48 487.01 755.48 493.52ZM755.48 493.52 762.67 487.01 762.67 493.52ZM762.67 493.52 769.85 487.01 769.85 493.52ZM769.85 493.52 777.03 487.01 777.03 493.52ZM777.03 493.52 784.22 487.01 784.22 493.52ZM784.22 493.52 791.4 487.01 791.4 493.52ZM791.4 493.52 798.58 487.01 798.58 493.52ZM798.58 493.52 805.77 487.01 805.77 493.52ZM805.77 493.52 812.95 487.01 812.95 493.52ZM812.95 493.52 820.13 487.01 820.13 493.52ZM820.13 493.52 827.32 487.01 827.32 493.52ZM827.32 493.52 834.5 487.01 834.5 493.52ZM834.5 493.52 841.68 487.01 841.68 493.52ZM841.68 493.52 848.87 487.01 848.87 493.52ZM848.87 493.52 856.05 487.01 856.05 493.52ZM856.05 493.52 863.23 487.01 863.23 493.52ZM863.23 493.52 870.42 487.01 870.42 493.52ZM870.42 493.52 877.6 487.01 877.6 493.52ZM877.6 493.52 884.78 487.01 884.78 493.52ZM884.78 493.52 891.97 487.01 891.97 493.52ZM891.97 493.52 899.15 487.01 899.15 493.52ZM899.15 493.52 906.33 487.01 906.33 493.52ZM906.33 493.52 913.52 487.01 913.52 493.52ZM913.52 493.52 920.7 487.01 920.7 493.52ZM920.7 493.52 927.88 487.01 927.88 493.52ZM927.88 493.52 935.07 487.01 935.07 493.52ZM935.07 493.52 942.25 487.01 942.25 493.52ZM942.25 493.52 949.43 487.01 949.43 493.52ZM949.43 493.52 956.62 487.01 956.62 493.52ZM956.62 493.52 963.8 487.01 963.8 493.52ZM963.8 493.52 970.98 487.01 970.98 493.52ZM970.98 493.52 978.17 487.01 978.17 493.52ZM978.17 493.52 985.35 487.01 985.35 493.52ZM985.35 493.52 992.53 487.01 992.53 493.52ZM992.53 493.52 999.72 487.01 999.72 493.52ZM999.72 493.52 1006.9 487.01 1006.9 493.52Z" fill="#FFFFFF"/>
<rect x="748.3" y="494.19" width="258.6" height="6.05" fill="#566564"/>
<rect x="748.3" y="499.94" width="258.6" height="29.03" fill="#CDD8D5"/>
<path d="M748.3 499.94 762.67 514.45 762.67 528.96 748.3 514.45ZM762.67 499.94 777.03 499.94 762.67 514.45ZM777.03 514.45 777.03 528.96 762.67 528.96ZM777.03 499.94 791.4 514.45 791.4 528.96 777.03 514.45ZM791.4 499.94 805.77 499.94 791.4 514.45ZM805.77 514.45 805.77 528.96 791.4 528.96ZM805.77 499.94 820.13 514.45 820.13 528.96 805.77 514.45ZM820.13 499.94 834.5 499.94 820.13 514.45ZM834.5 514.45 834.5 528.96 820.13 528.96ZM834.5 499.94 848.87 514.45 848.87 528.96 834.5 514.45ZM848.87 499.94 863.23 499.94 848.87 514.45ZM863.23 514.45 863.23 528.96 848.87 528.96ZM863.23 499.94 877.6 514.45 877.6 528.96 863.23 514.45ZM877.6 499.94 891.97 499.94 877.6 514.45ZM891.97 514.45 891.97 528.96 877.6 528.96ZM891.97 499.94 906.33 514.45 906.33 528.96 891.97 514.45ZM906.33 499.94 920.7 499.94 906.33 514.45ZM920.7 514.45 920.7 528.96 906.33 528.96ZM920.7 499.94 935.07 514.45 935.07 528.96 920.7 514.45ZM935.07 499.94 949.43 499.94 935.07 514.45ZM949.43 514.45 949.43 528.96 935.07 528.96ZM949.43 499.94 963.8 514.45 963.8 528.96 949.43 514.45ZM963.8 499.94 978.17 499.94 963.8 514.45ZM978.17 514.45 978.17 528.96 963.8 528.96ZM978.17 499.94 992.53 514.45 992.53 528.96 978.17 514.45ZM992.53 499.94 1006.9 499.94 992.53 514.45ZM1006.9 514.45 1006.9 528.96 992.53 528.96Z" fill="#97A7A2"/>
<rect x="748.3" y="528.66" width="258.6" height="6.05" fill="#566564"/>
<rect x="748.3" y="534.41" width="258.6" height="7.48" fill="#566564"/>
<path d="M748.3 534.41h258.6v0.97h-258.6zM748.3 535.38 755.48 535.38 748.3 541.89ZM755.48 535.38 762.67 535.38 755.48 541.89ZM762.67 535.38 769.85 535.38 762.67 541.89ZM769.85 535.38 777.03 535.38 769.85 541.89ZM777.03 535.38 784.22 535.38 777.03 541.89ZM784.22 535.38 791.4 535.38 784.22 541.89ZM791.4 535.38 798.58 535.38 791.4 541.89ZM798.58 535.38 805.77 535.38 798.58 541.89ZM805.77 535.38 812.95 535.38 805.77 541.89ZM812.95 535.38 820.13 535.38 812.95 541.89ZM820.13 535.38 827.32 535.38 820.13 541.89ZM827.32 535.38 834.5 535.38 827.32 541.89ZM834.5 535.38 841.68 535.38 834.5 541.89ZM841.68 535.38 848.87 535.38 841.68 541.89ZM848.87 535.38 856.05 535.38 848.87 541.89ZM856.05 535.38 863.23 535.38 856.05 541.89ZM863.23 535.38 870.42 535.38 863.23 541.89ZM870.42 535.38 877.6 535.38 870.42 541.89ZM877.6 535.38 884.78 535.38 877.6 541.89ZM884.78 535.38 891.97 535.38 884.78 541.89ZM891.97 535.38 899.15 535.38 891.97 541.89ZM899.15 535.38 906.33 535.38 899.15 541.89ZM906.33 535.38 913.52 535.38 906.33 541.89ZM913.52 535.38 920.7 535.38 913.52 541.89ZM920.7 535.38 927.88 535.38 920.7 541.89ZM927.88 535.38 935.07 535.38 927.88 541.89ZM935.07 535.38 942.25 535.38 935.07 541.89ZM942.25 535.38 949.43 535.38 942.25 541.89ZM949.43 535.38 956.62 535.38 949.43 541.89ZM956.62 535.38 963.8 535.38 956.62 541.89ZM963.8 535.38 970.98 535.38 963.8 541.89ZM970.98 535.38 978.17 535.38 970.98 541.89ZM978.17 535.38 985.35 535.38 978.17 541.89ZM985.35 535.38 992.53 535.38 985.35 541.89ZM992.53 535.38 999.72 535.38 992.53 541.89ZM999.72 535.38 1006.9 535.38 999.72 541.89Z" fill="#FFFFFF"/>
<rect x="748.3" y="541.59" width="258.6" height="6.05" fill="#566564"/>
<rect x="748.3" y="547.33" width="258.6" height="6.05" fill="#403833"/>
<rect x="748.3" y="553.08" width="258.6" height="14.66" fill="#698A86"/>
<path d="M755.48 553.08h7.18v14.66h-7.18zM769.85 553.08h7.18v14.66h-7.18zM784.22 553.08h7.18v14.66h-7.18zM798.58 553.08h7.18v14.66h-7.18zM812.95 553.08h7.18v14.66h-7.18zM827.32 553.08h7.18v14.66h-7.18zM841.68 553.08h7.18v14.66h-7.18zM856.05 553.08h7.18v14.66h-7.18zM870.42 553.08h7.18v14.66h-7.18zM884.78 553.08h7.18v14.66h-7.18zM899.15 553.08h7.18v14.66h-7.18zM913.52 553.08h7.18v14.66h-7.18zM927.88 553.08h7.18v14.66h-7.18zM942.25 553.08h7.18v14.66h-7.18zM956.62 553.08h7.18v14.66h-7.18zM970.98 553.08h7.18v14.66h-7.18zM985.35 553.08h7.18v14.66h-7.18zM999.72 553.08h7.18v14.66h-7.18z" fill="#4B545E"/>
<rect x="748.3" y="567.44" width="258.6" height="6.05" fill="#403833"/>
<rect x="748.3" y="573.19" width="258.6" height="8.92" fill="#95742B"/>
<rect x="748.3" y="581.8" width="258.6" height="29.03" fill="#F8DCCF"/>
<path d="M748.66 583.4 748.66 609.23 762.31 596.32ZM763.03 583.4 763.03 609.23 776.67 596.32ZM777.39 583.4 777.39 609.23 791.04 596.32ZM791.76 583.4 791.76 609.23 805.41 596.32ZM806.13 583.4 806.13 609.23 819.77 596.32ZM820.49 583.4 820.49 609.23 834.14 596.32ZM834.86 583.4 834.86 609.23 848.51 596.32ZM849.23 583.4 849.23 609.23 862.87 596.32ZM863.59 583.4 863.59 609.23 877.24 596.32ZM877.96 583.4 877.96 609.23 891.61 596.32ZM892.33 583.4 892.33 609.23 905.97 596.32ZM906.69 583.4 906.69 609.23 920.34 596.32ZM921.06 583.4 921.06 609.23 934.71 596.32ZM935.43 583.4 935.43 609.23 949.07 596.32ZM949.79 583.4 949.79 609.23 963.44 596.32ZM964.16 583.4 964.16 609.23 977.81 596.32ZM978.53 583.4 978.53 609.23 992.17 596.32ZM992.89 583.4 992.89 609.23 1006.54 596.32Z" fill="#D9977F"/>
<rect x="748.3" y="610.53" width="258.6" height="8.92" fill="#95742B"/>
<rect x="748.3" y="619.15" width="258.6" height="6.05" fill="#403833"/>
<rect x="748.3" y="624.89" width="258.6" height="14.66" fill="#4B545E"/>
<path d="M755.48 624.89h7.18v14.66h-7.18zM769.85 624.89h7.18v14.66h-7.18zM784.22 624.89h7.18v14.66h-7.18zM798.58 624.89h7.18v14.66h-7.18zM812.95 624.89h7.18v14.66h-7.18zM827.32 624.89h7.18v14.66h-7.18zM841.68 624.89h7.18v14.66h-7.18zM856.05 624.89h7.18v14.66h-7.18zM870.42 624.89h7.18v14.66h-7.18zM884.78 624.89h7.18v14.66h-7.18zM899.15 624.89h7.18v14.66h-7.18zM913.52 624.89h7.18v14.66h-7.18zM927.88 624.89h7.18v14.66h-7.18zM942.25 624.89h7.18v14.66h-7.18zM956.62 624.89h7.18v14.66h-7.18zM970.98 624.89h7.18v14.66h-7.18zM985.35 624.89h7.18v14.66h-7.18zM999.72 624.89h7.18v14.66h-7.18z" fill="#698A86"/>
<rect x="748.3" y="639.25" width="258.6" height="5.75" fill="#403833"/>
<rect x="1025.6" y="346.2" width="287.3" height="298.8" fill="#566564"/>
<rect x="1025.6" y="346.2" width="287.3" height="6.05" fill="#566564"/>
<rect x="1025.6" y="351.95" width="287.3" height="7.48" fill="#566564"/>
<path d="M1025.6 358.46h287.3v0.97h-287.3zM1025.6 358.46 1032.78 351.95 1032.78 358.46ZM1032.78 358.46 1039.96 351.95 1039.96 358.46ZM1039.96 358.46 1047.15 351.95 1047.15 358.46ZM1047.15 358.46 1054.33 351.95 1054.33 358.46ZM1054.33 358.46 1061.51 351.95 1061.51 358.46ZM1061.51 358.46 1068.69 351.95 1068.69 358.46ZM1068.69 358.46 1075.88 351.95 1075.88 358.46ZM1075.88 358.46 1083.06 351.95 1083.06 358.46ZM1083.06 358.46 1090.24 351.95 1090.24 358.46ZM1090.24 358.46 1097.42 351.95 1097.42 358.46ZM1097.42 358.46 1104.61 351.95 1104.61 358.46ZM1104.61 358.46 1111.79 351.95 1111.79 358.46ZM1111.79 358.46 1118.97 351.95 1118.97 358.46ZM1118.97 358.46 1126.15 351.95 1126.15 358.46ZM1126.15 358.46 1133.34 351.95 1133.34 358.46ZM1133.34 358.46 1140.52 351.95 1140.52 358.46ZM1140.52 358.46 1147.7 351.95 1147.7 358.46ZM1147.7 358.46 1154.88 351.95 1154.88 358.46ZM1154.88 358.46 1162.07 351.95 1162.07 358.46ZM1162.07 358.46 1169.25 351.95 1169.25 358.46ZM1169.25 358.46 1176.43 351.95 1176.43 358.46ZM1176.43 358.46 1183.61 351.95 1183.61 358.46ZM1183.62 358.46 1190.8 351.95 1190.8 358.46ZM1190.8 358.46 1197.98 351.95 1197.98 358.46ZM1197.98 358.46 1205.16 351.95 1205.16 358.46ZM1205.16 358.46 1212.34 351.95 1212.34 358.46ZM1212.34 358.46 1219.53 351.95 1219.53 358.46ZM1219.53 358.46 1226.71 351.95 1226.71 358.46ZM1226.71 358.46 1233.89 351.95 1233.89 358.46ZM1233.89 358.46 1241.07 351.95 1241.07 358.46ZM1241.07 358.46 1248.26 351.95 1248.26 358.46ZM1248.26 358.46 1255.44 351.95 1255.44 358.46ZM1255.44 358.46 1262.62 351.95 1262.62 358.46ZM1262.62 358.46 1269.8 351.95 1269.8 358.46ZM1269.8 358.46 1276.99 351.95 1276.99 358.46ZM1276.99 358.46 1284.17 351.95 1284.17 358.46ZM1284.17 358.46 1291.35 351.95 1291.35 358.46ZM1291.35 358.46 1298.53 351.95 1298.53 358.46ZM1298.53 358.46 1305.72 351.95 1305.72 358.46ZM1305.72 358.46 1312.9 351.95 1312.9 358.46Z" fill="#FFFFFF"/>
<rect x="1025.6" y="359.13" width="287.3" height="6.05" fill="#566564"/>
<rect x="1025.6" y="364.88" width="287.3" height="6.05" fill="#403833"/>
<rect x="1025.6" y="370.62" width="287.3" height="14.67" fill="#698A86"/>
<path d="M1032.78 370.62h7.18v14.67h-7.18zM1047.15 370.62h7.18v14.67h-7.18zM1061.51 370.62h7.18v14.67h-7.18zM1075.88 370.62h7.18v14.67h-7.18zM1090.24 370.62h7.18v14.67h-7.18zM1104.61 370.62h7.18v14.67h-7.18zM1118.97 370.62h7.18v14.67h-7.18zM1133.34 370.62h7.18v14.67h-7.18zM1147.7 370.62h7.18v14.67h-7.18zM1162.07 370.62h7.18v14.67h-7.18zM1176.43 370.62h7.18v14.67h-7.18zM1190.8 370.62h7.18v14.67h-7.18zM1205.16 370.62h7.18v14.67h-7.18zM1219.53 370.62h7.18v14.67h-7.18zM1233.89 370.62h7.18v14.67h-7.18zM1248.26 370.62h7.18v14.67h-7.18zM1262.62 370.62h7.18v14.67h-7.18zM1276.99 370.62h7.18v14.67h-7.18zM1291.35 370.62h7.18v14.67h-7.18zM1305.72 370.62h7.18v14.67h-7.18z" fill="#4B545E"/>
<rect x="1025.6" y="384.99" width="287.3" height="6.05" fill="#403833"/>
<rect x="1025.6" y="390.73" width="287.3" height="8.92" fill="#95742B"/>
<rect x="1025.6" y="399.35" width="287.3" height="29.03" fill="#F8DCCF"/>
<path d="M1039.61 400.95 1039.61 426.78 1025.96 413.87ZM1053.97 400.95 1053.97 426.78 1040.32 413.87ZM1068.34 400.95 1068.34 426.78 1054.69 413.87ZM1082.7 400.95 1082.7 426.78 1069.05 413.87ZM1097.07 400.95 1097.07 426.78 1083.42 413.87ZM1111.43 400.95 1111.43 426.78 1097.78 413.87ZM1125.8 400.95 1125.8 426.78 1112.15 413.87ZM1140.16 400.95 1140.16 426.78 1126.51 413.87ZM1154.53 400.95 1154.53 426.78 1140.88 413.87ZM1168.89 400.95 1168.89 426.78 1155.24 413.87ZM1183.26 400.95 1183.26 426.78 1169.61 413.87ZM1197.62 400.95 1197.62 426.78 1183.97 413.87ZM1211.99 400.95 1211.99 426.78 1198.34 413.87ZM1226.35 400.95 1226.35 426.78 1212.7 413.87ZM1240.72 400.95 1240.72 426.78 1227.07 413.87ZM1255.08 400.95 1255.08 426.78 1241.43 413.87ZM1269.45 400.95 1269.45 426.78 1255.8 413.87ZM1283.81 400.95 1283.81 426.78 1270.16 413.87ZM1298.18 400.95 1298.18 426.78 1284.53 413.87ZM1312.54 400.95 1312.54 426.78 1298.89 413.87Z" fill="#D9977F"/>
<rect x="1025.6" y="428.08" width="287.3" height="8.92" fill="#95742B"/>
<rect x="1025.6" y="436.7" width="287.3" height="6.05" fill="#403833"/>
<rect x="1025.6" y="442.45" width="287.3" height="14.67" fill="#4B545E"/>
<path d="M1032.78 442.45h7.18v14.67h-7.18zM1047.15 442.45h7.18v14.67h-7.18zM1061.51 442.45h7.18v14.67h-7.18zM1075.88 442.45h7.18v14.67h-7.18zM1090.24 442.45h7.18v14.67h-7.18zM1104.61 442.45h7.18v14.67h-7.18zM1118.97 442.45h7.18v14.67h-7.18zM1133.34 442.45h7.18v14.67h-7.18zM1147.7 442.45h7.18v14.67h-7.18zM1162.07 442.45h7.18v14.67h-7.18zM1176.43 442.45h7.18v14.67h-7.18zM1190.8 442.45h7.18v14.67h-7.18zM1205.16 442.45h7.18v14.67h-7.18zM1219.53 442.45h7.18v14.67h-7.18zM1233.89 442.45h7.18v14.67h-7.18zM1248.26 442.45h7.18v14.67h-7.18zM1262.62 442.45h7.18v14.67h-7.18zM1276.99 442.45h7.18v14.67h-7.18zM1291.35 442.45h7.18v14.67h-7.18zM1305.72 442.45h7.18v14.67h-7.18z" fill="#698A86"/>
<rect x="1025.6" y="456.81" width="287.3" height="6.05" fill="#403833"/>
<rect x="1025.6" y="462.56" width="287.3" height="6.05" fill="#566564"/>
<rect x="1025.6" y="468.31" width="287.3" height="7.48" fill="#566564"/>
<path d="M1025.6 474.82h287.3v0.97h-287.3zM1025.6 474.82 1032.78 468.31 1032.78 474.82ZM1032.78 474.82 1039.96 468.31 1039.96 474.82ZM1039.96 474.82 1047.15 468.31 1047.15 474.82ZM1047.15 474.82 1054.33 468.31 1054.33 474.82ZM1054.33 474.82 1061.51 468.31 1061.51 474.82ZM1061.51 474.82 1068.69 468.31 1068.69 474.82ZM1068.69 474.82 1075.88 468.31 1075.88 474.82ZM1075.88 474.82 1083.06 468.31 1083.06 474.82ZM1083.06 474.82 1090.24 468.31 1090.24 474.82ZM1090.24 474.82 1097.42 468.31 1097.42 474.82ZM1097.42 474.82 1104.61 468.31 1104.61 474.82ZM1104.61 474.82 1111.79 468.31 1111.79 474.82ZM1111.79 474.82 1118.97 468.31 1118.97 474.82ZM1118.97 474.82 1126.15 468.31 1126.15 474.82ZM1126.15 474.82 1133.34 468.31 1133.34 474.82ZM1133.34 474.82 1140.52 468.31 1140.52 474.82ZM1140.52 474.82 1147.7 468.31 1147.7 474.82ZM1147.7 474.82 1154.88 468.31 1154.88 474.82ZM1154.88 474.82 1162.07 468.31 1162.07 474.82ZM1162.07 474.82 1169.25 468.31 1169.25 474.82ZM1169.25 474.82 1176.43 468.31 1176.43 474.82ZM1176.43 474.82 1183.61 468.31 1183.61 474.82ZM1183.62 474.82 1190.8 468.31 1190.8 474.82ZM1190.8 474.82 1197.98 468.31 1197.98 474.82ZM1197.98 474.82 1205.16 468.31 1205.16 474.82ZM1205.16 474.82 1212.34 468.31 1212.34 474.82ZM1212.34 474.82 1219.53 468.31 1219.53 474.82ZM1219.53 474.82 1226.71 468.31 1226.71 474.82ZM1226.71 474.82 1233.89 468.31 1233.89 474.82ZM1233.89 474.82 1241.07 468.31 1241.07 474.82ZM1241.07 474.82 1248.26 468.31 1248.26 474.82ZM1248.26 474.82 1255.44 468.31 1255.44 474.82ZM1255.44 474.82 1262.62 468.31 1262.62 474.82ZM1262.62 474.82 1269.8 468.31 1269.8 474.82ZM1269.8 474.82 1276.99 468.31 1276.99 474.82ZM1276.99 474.82 1284.17 468.31 1284.17 474.82ZM1284.17 474.82 1291.35 468.31 1291.35 474.82ZM1291.35 474.82 1298.53 468.31 1298.53 474.82ZM1298.53 474.82 1305.72 468.31 1305.72 474.82ZM1305.72 474.82 1312.9 468.31 1312.9 474.82Z" fill="#FFFFFF"/>
<rect x="1025.6" y="475.49" width="287.3" height="6.05" fill="#566564"/>
<rect x="1025.6" y="481.23" width="287.3" height="29.03" fill="#CDD8D5"/>
<path d="M1025.6 481.23 1039.96 495.75 1039.96 510.27 1025.6 495.75ZM1039.96 481.23 1054.33 481.23 1039.96 495.75ZM1054.33 495.75 1054.33 510.27 1039.96 510.27ZM1054.33 481.23 1068.69 495.75 1068.69 510.27 1054.33 495.75ZM1068.69 481.23 1083.06 481.23 1068.69 495.75ZM1083.06 495.75 1083.06 510.27 1068.69 510.27ZM1083.06 481.23 1097.42 495.75 1097.42 510.27 1083.06 495.75ZM1097.42 481.23 1111.79 481.23 1097.42 495.75ZM1111.79 495.75 1111.79 510.27 1097.42 510.27ZM1111.79 481.23 1126.15 495.75 1126.15 510.27 1111.79 495.75ZM1126.15 481.23 1140.52 481.23 1126.15 495.75ZM1140.52 495.75 1140.52 510.27 1126.15 510.27ZM1140.52 481.23 1154.88 495.75 1154.88 510.27 1140.52 495.75ZM1154.88 481.23 1169.25 481.23 1154.88 495.75ZM1169.25 495.75 1169.25 510.27 1154.88 510.27ZM1169.25 481.23 1183.62 495.75 1183.62 510.27 1169.25 495.75ZM1183.62 481.23 1197.98 481.23 1183.62 495.75ZM1197.98 495.75 1197.98 510.27 1183.62 510.27ZM1197.98 481.23 1212.35 495.75 1212.35 510.27 1197.98 495.75ZM1212.34 481.23 1226.71 481.23 1212.34 495.75ZM1226.71 495.75 1226.71 510.27 1212.34 510.27ZM1226.71 481.23 1241.08 495.75 1241.08 510.27 1226.71 495.75ZM1241.07 481.23 1255.44 481.23 1241.07 495.75ZM1255.44 495.75 1255.44 510.27 1241.07 510.27ZM1255.44 481.23 1269.8 495.75 1269.8 510.27 1255.44 495.75ZM1269.8 481.23 1284.17 481.23 1269.8 495.75ZM1284.17 495.75 1284.17 510.27 1269.8 510.27ZM1284.17 481.23 1298.53 495.75 1298.53 510.27 1284.17 495.75ZM1298.53 481.23 1312.9 481.23 1298.53 495.75ZM1312.9 495.75 1312.9 510.27 1298.53 510.27Z" fill="#97A7A2"/>
<rect x="1025.6" y="509.97" width="287.3" height="6.05" fill="#566564"/>
<rect x="1025.6" y="515.71" width="287.3" height="7.48" fill="#566564"/>
<path d="M1025.6 515.71h287.3v0.97h-287.3zM1025.6 516.68 1032.78 516.68 1025.6 523.19ZM1032.78 516.68 1039.96 516.68 1032.78 523.19ZM1039.96 516.68 1047.15 516.68 1039.96 523.19ZM1047.15 516.68 1054.33 516.68 1047.15 523.19ZM1054.33 516.68 1061.51 516.68 1054.33 523.19ZM1061.51 516.68 1068.69 516.68 1061.51 523.19ZM1068.69 516.68 1075.88 516.68 1068.69 523.19ZM1075.88 516.68 1083.06 516.68 1075.88 523.19ZM1083.06 516.68 1090.24 516.68 1083.06 523.19ZM1090.24 516.68 1097.42 516.68 1090.24 523.19ZM1097.42 516.68 1104.61 516.68 1097.42 523.19ZM1104.61 516.68 1111.79 516.68 1104.61 523.19ZM1111.79 516.68 1118.97 516.68 1111.79 523.19ZM1118.97 516.68 1126.15 516.68 1118.97 523.19ZM1126.15 516.68 1133.34 516.68 1126.15 523.19ZM1133.34 516.68 1140.52 516.68 1133.34 523.19ZM1140.52 516.68 1147.7 516.68 1140.52 523.19ZM1147.7 516.68 1154.88 516.68 1147.7 523.19ZM1154.88 516.68 1162.07 516.68 1154.88 523.19ZM1162.07 516.68 1169.25 516.68 1162.07 523.19ZM1169.25 516.68 1176.43 516.68 1169.25 523.19ZM1176.43 516.68 1183.61 516.68 1176.43 523.19ZM1183.62 516.68 1190.8 516.68 1183.62 523.19ZM1190.8 516.68 1197.98 516.68 1190.8 523.19ZM1197.98 516.68 1205.16 516.68 1197.98 523.19ZM1205.16 516.68 1212.34 516.68 1205.16 523.19ZM1212.34 516.68 1219.53 516.68 1212.34 523.19ZM1219.53 516.68 1226.71 516.68 1219.53 523.19ZM1226.71 516.68 1233.89 516.68 1226.71 523.19ZM1233.89 516.68 1241.07 516.68 1233.89 523.19ZM1241.07 516.68 1248.26 516.68 1241.07 523.19ZM1248.26 516.68 1255.44 516.68 1248.26 523.19ZM1255.44 516.68 1262.62 516.68 1255.44 523.19ZM1262.62 516.68 1269.8 516.68 1262.62 523.19ZM1269.8 516.68 1276.99 516.68 1269.8 523.19ZM1276.99 516.68 1284.17 516.68 1276.99 523.19ZM1284.17 516.68 1291.35 516.68 1284.17 523.19ZM1291.35 516.68 1298.53 516.68 1291.35 523.19ZM1298.53 516.68 1305.72 516.68 1298.53 523.19ZM1305.72 516.68 1312.9 516.68 1305.72 523.19Z" fill="#FFFFFF"/>
<rect x="1025.6" y="522.89" width="287.3" height="6.05" fill="#566564"/>
<rect x="1025.6" y="528.64" width="287.3" height="6.05" fill="#403833"/>
<rect x="1025.6" y="534.39" width="287.3" height="14.67" fill="#698A86"/>
<path d="M1032.78 534.39h7.18v14.67h-7.18zM1047.15 534.39h7.18v14.67h-7.18zM1061.51 534.39h7.18v14.67h-7.18zM1075.88 534.39h7.18v14.67h-7.18zM1090.24 534.39h7.18v14.67h-7.18zM1104.61 534.39h7.18v14.67h-7.18zM1118.97 534.39h7.18v14.67h-7.18zM1133.34 534.39h7.18v14.67h-7.18zM1147.7 534.39h7.18v14.67h-7.18zM1162.07 534.39h7.18v14.67h-7.18zM1176.43 534.39h7.18v14.67h-7.18zM1190.8 534.39h7.18v14.67h-7.18zM1205.16 534.39h7.18v14.67h-7.18zM1219.53 534.39h7.18v14.67h-7.18zM1233.89 534.39h7.18v14.67h-7.18zM1248.26 534.39h7.18v14.67h-7.18zM1262.62 534.39h7.18v14.67h-7.18zM1276.99 534.39h7.18v14.67h-7.18zM1291.35 534.39h7.18v14.67h-7.18zM1305.72 534.39h7.18v14.67h-7.18z" fill="#4B545E"/>
<rect x="1025.6" y="548.75" width="287.3" height="6.05" fill="#403833"/>
<rect x="1025.6" y="554.5" width="287.3" height="8.92" fill="#95742B"/>
<rect x="1025.6" y="563.12" width="287.3" height="29.03" fill="#F8DCCF"/>
<path d="M1025.96 564.72 1025.96 590.55 1039.61 577.63ZM1040.32 564.72 1040.32 590.55 1053.97 577.63ZM1054.69 564.72 1054.69 590.55 1068.34 577.63ZM1069.05 564.72 1069.05 590.55 1082.7 577.63ZM1083.42 564.72 1083.42 590.55 1097.07 577.63ZM1097.78 564.72 1097.78 590.55 1111.43 577.63ZM1112.15 564.72 1112.15 590.55 1125.8 577.63ZM1126.51 564.72 1126.51 590.55 1140.16 577.63ZM1140.88 564.72 1140.88 590.55 1154.53 577.63ZM1155.24 564.72 1155.24 590.55 1168.89 577.63ZM1169.61 564.72 1169.61 590.55 1183.26 577.63ZM1183.97 564.72 1183.97 590.55 1197.62 577.63ZM1198.34 564.72 1198.34 590.55 1211.99 577.63ZM1212.7 564.72 1212.7 590.55 1226.35 577.63ZM1227.07 564.72 1227.07 590.55 1240.72 577.63ZM1241.43 564.72 1241.43 590.55 1255.08 577.63ZM1255.8 564.72 1255.8 590.55 1269.45 577.63ZM1270.16 564.72 1270.16 590.55 1283.81 577.63ZM1284.53 564.72 1284.53 590.55 1298.18 577.63ZM1298.89 564.72 1298.89 590.55 1312.54 577.63Z" fill="#D9977F"/>
<rect x="1025.6" y="591.85" width="287.3" height="8.92" fill="#95742B"/>
<rect x="1025.6" y="600.47" width="287.3" height="6.05" fill="#403833"/>
<rect x="1025.6" y="606.21" width="287.3" height="14.67" fill="#4B545E"/>
<path d="M1032.78 606.21h7.18v14.67h-7.18zM1047.15 606.21h7.18v14.67h-7.18zM1061.51 606.21h7.18v14.67h-7.18zM1075.88 606.21h7.18v14.67h-7.18zM1090.24 606.21h7.18v14.67h-7.18zM1104.61 606.21h7.18v14.67h-7.18zM1118.97 606.21h7.18v14.67h-7.18zM1133.34 606.21h7.18v14.67h-7.18zM1147.7 606.21h7.18v14.67h-7.18zM1162.07 606.21h7.18v14.67h-7.18zM1176.43 606.21h7.18v14.67h-7.18zM1190.8 606.21h7.18v14.67h-7.18zM1205.16 606.21h7.18v14.67h-7.18zM1219.53 606.21h7.18v14.67h-7.18zM1233.89 606.21h7.18v14.67h-7.18zM1248.26 606.21h7.18v14.67h-7.18zM1262.62 606.21h7.18v14.67h-7.18zM1276.99 606.21h7.18v14.67h-7.18zM1291.35 606.21h7.18v14.67h-7.18zM1305.72 606.21h7.18v14.67h-7.18z" fill="#698A86"/>
<rect x="1025.6" y="620.58" width="287.3" height="6.05" fill="#403833"/>
<rect x="1025.6" y="626.33" width="287.3" height="6.05" fill="#566564"/>
<rect x="1025.6" y="632.07" width="287.3" height="7.48" fill="#566564"/>
<path d="M1025.6 632.07h287.3v0.97h-287.3zM1025.6 633.04 1032.78 633.04 1025.6 639.55ZM1032.78 633.04 1039.96 633.04 1032.78 639.55ZM1039.96 633.04 1047.15 633.04 1039.96 639.55ZM1047.15 633.04 1054.33 633.04 1047.15 639.55ZM1054.33 633.04 1061.51 633.04 1054.33 639.55ZM1061.51 633.04 1068.69 633.04 1061.51 639.55ZM1068.69 633.04 1075.88 633.04 1068.69 639.55ZM1075.88 633.04 1083.06 633.04 1075.88 639.55ZM1083.06 633.04 1090.24 633.04 1083.06 639.55ZM1090.24 633.04 1097.42 633.04 1090.24 639.55ZM1097.42 633.04 1104.61 633.04 1097.42 639.55ZM1104.61 633.04 1111.79 633.04 1104.61 639.55ZM1111.79 633.04 1118.97 633.04 1111.79 639.55ZM1118.97 633.04 1126.15 633.04 1118.97 639.55ZM1126.15 633.04 1133.34 633.04 1126.15 639.55ZM1133.34 633.04 1140.52 633.04 1133.34 639.55ZM1140.52 633.04 1147.7 633.04 1140.52 639.55ZM1147.7 633.04 1154.88 633.04 1147.7 639.55ZM1154.88 633.04 1162.07 633.04 1154.88 639.55ZM1162.07 633.04 1169.25 633.04 1162.07 639.55ZM1169.25 633.04 1176.43 633.04 1169.25 639.55ZM1176.43 633.04 1183.61 633.04 1176.43 639.55ZM1183.62 633.04 1190.8 633.04 1183.62 639.55ZM1190.8 633.04 1197.98 633.04 1190.8 639.55ZM1197.98 633.04 1205.16 633.04 1197.98 639.55ZM1205.16 633.04 1212.34 633.04 1205.16 639.55ZM1212.34 633.04 1219.53 633.04 1212.34 639.55ZM1219.53 633.04 1226.71 633.04 1219.53 639.55ZM1226.71 633.04 1233.89 633.04 1226.71 639.55ZM1233.89 633.04 1241.07 633.04 1233.89 639.55ZM1241.07 633.04 1248.26 633.04 1241.07 639.55ZM1248.26 633.04 1255.44 633.04 1248.26 639.55ZM1255.44 633.04 1262.62 633.04 1255.44 639.55ZM1262.62 633.04 1269.8 633.04 1262.62 639.55ZM1269.8 633.04 1276.99 633.04 1269.8 639.55ZM1276.99 633.04 1284.17 633.04 1276.99 639.55ZM1284.17 633.04 1291.35 633.04 1284.17 639.55ZM1291.35 633.04 1298.53 633.04 1291.35 639.55ZM1298.53 633.04 1305.72 633.04 1298.53 639.55ZM1305.72 633.04 1312.9 633.04 1305.72 639.55Z" fill="#FFFFFF"/>
<rect x="1025.6" y="639.25" width="287.3" height="5.75" fill="#566564"/>
</g>
<g id="table">
<rect x="177.6" y="660.4" width="1148" height="81.4" fill="#CFD8D5"/>
<rect x="177.6" y="741.8" width="159.1" height="44.65" fill="#95742B"/>
<rect x="177.6" y="786.45" width="159.1" height="44.65" fill="#F8DCCF"/>
<rect x="177.6" y="831.1" width="159.1" height="44.65" fill="#D9977F"/>
<rect x="177.6" y="875.75" width="159.1" height="44.65" fill="#4B545E"/>
<rect x="177.6" y="920.4" width="159.1" height="44.65" fill="#698A86"/>
<rect x="177.6" y="965.05" width="159.1" height="44.65" fill="#403833"/>
<rect x="177.6" y="1009.7" width="159.1" height="44.65" fill="#97A7A2"/>
<rect x="177.6" y="1054.35" width="159.1" height="44.65" fill="#CDD8D5"/>
<rect x="177.6" y="1099" width="159.1" height="44.65" fill="#566564"/>
<path d="M177.6 660.4V1277.6M336.7 660.4V1277.6M544.2 660.4V1277.6M719.6 660.4V1277.6M905.2 660.4V1277.6M1110.8 660.4V1277.6M1325.6 660.4V1277.6M177.6 660.4H1325.6M177.6 741.8H1325.6M177.6 786.45H1325.6M177.6 831.1H1325.6M177.6 875.75H1325.6M177.6 920.4H1325.6M177.6 965.05H1325.6M177.6 1009.7H1325.6M177.6 1054.35H1325.6M177.6 1099H1325.6M177.6 1143.65H1325.6M177.6 1188.3H1325.6M177.6 1232.95H1325.6M177.6 1277.6H1325.6" fill="none" stroke="#A9ACAC" stroke-width="1.4"/>
<text x="440.45" y="699.4" font-size="28.5" text-anchor="middle" font-weight="700" textLength="76.66" lengthAdjust="spacingAndGlyphs">Baby</text>
<text x="440.45" y="730" font-size="26" text-anchor="middle" textLength="109.97" lengthAdjust="spacingAndGlyphs" stroke="#CFD8D5" stroke-width="0.5">36" x 47"</text>
<text x="631.9" y="699.4" font-size="28.5" text-anchor="middle" font-weight="700" textLength="94.04" lengthAdjust="spacingAndGlyphs">Throw</text>
<text x="631.9" y="730" font-size="26" text-anchor="middle" textLength="109.97" lengthAdjust="spacingAndGlyphs" stroke="#CFD8D5" stroke-width="0.5">60" x 73"</text>
<text x="812.4" y="699.4" font-size="28.5" text-anchor="middle" font-weight="700" textLength="69.07" lengthAdjust="spacingAndGlyphs">Twin</text>
<text x="812.4" y="730" font-size="26" text-anchor="middle" textLength="109.97" lengthAdjust="spacingAndGlyphs" stroke="#CFD8D5" stroke-width="0.5">70" x 91"</text>
<text x="1008" y="699.4" font-size="28.5" text-anchor="middle" font-weight="700" textLength="97.56" lengthAdjust="spacingAndGlyphs">Queen</text>
<text x="1008" y="730" font-size="26" text-anchor="middle" textLength="109.97" lengthAdjust="spacingAndGlyphs" stroke="#CFD8D5" stroke-width="0.5">90" x 91"</text>
<text x="1218.2" y="699.4" font-size="28.5" text-anchor="middle" font-weight="700" textLength="69.65" lengthAdjust="spacingAndGlyphs">King</text>
<text x="1218.2" y="730" font-size="26" text-anchor="middle" textLength="140.63" lengthAdjust="spacingAndGlyphs" stroke="#CFD8D5" stroke-width="0.5">100" x 104"</text>
<text x="186.5" y="774.7" font-size="26.5" textLength="91.84" lengthAdjust="spacingAndGlyphs" fill="#fff">Color A</text>
<text x="440.45" y="774.7" font-size="26.5" text-anchor="middle" textLength="85.88" lengthAdjust="spacingAndGlyphs" stroke="#fff" stroke-width="0.45"><tspan stroke-width="0.22">½</tspan> yard</text>
<text x="631.9" y="774.7" font-size="26.5" text-anchor="middle" textLength="85.88" lengthAdjust="spacingAndGlyphs" stroke="#fff" stroke-width="0.45"><tspan stroke-width="0.22">¾</tspan> yard</text>
<text x="812.4" y="774.7" font-size="26.5" text-anchor="middle" textLength="85.88" lengthAdjust="spacingAndGlyphs" stroke="#fff" stroke-width="0.45"><tspan stroke-width="0.22">⅞</tspan> yard</text>
<text x="1008" y="774.7" font-size="26.5" text-anchor="middle" textLength="75.13" lengthAdjust="spacingAndGlyphs" stroke="#fff" stroke-width="0.45">1 yard</text>
<text x="1218.2" y="774.7" font-size="26.5" text-anchor="middle" textLength="120.19" lengthAdjust="spacingAndGlyphs" stroke="#fff" stroke-width="0.45">1-<tspan stroke-width="0.22">⅛</tspan> yards</text>
<text x="186.5" y="819.35" font-size="26.5" textLength="92.24" lengthAdjust="spacingAndGlyphs" stroke="#F8DCCF" stroke-width="0.4">Color B</text>
<text x="440.45" y="819.35" font-size="26.5" text-anchor="middle" textLength="85.88" lengthAdjust="spacingAndGlyphs" stroke="#fff" stroke-width="0.45"><tspan stroke-width="0.22">½</tspan> yard</text>
<text x="631.9" y="819.35" font-size="26.5" text-anchor="middle" textLength="85.88" lengthAdjust="spacingAndGlyphs" stroke="#fff" stroke-width="0.45"><tspan stroke-width="0.22">⅞</tspan> yard</text>
<text x="812.4" y="819.35" font-size="26.5" text-anchor="middle" textLength="75.13" lengthAdjust="spacingAndGlyphs" stroke="#fff" stroke-width="0.45">1 yard</text>
<text x="1008" y="819.35" font-size="26.5" text-anchor="middle" textLength="120.19" lengthAdjust="spacingAndGlyphs" stroke="#fff" stroke-width="0.45">1-<tspan stroke-width="0.22">¼</tspan> yards</text>
<text x="1218.2" y="819.35" font-size="26.5" text-anchor="middle" textLength="120.19" lengthAdjust="spacingAndGlyphs" stroke="#fff" stroke-width="0.45">1-<tspan stroke-width="0.22">½</tspan> yards</text>
<text x="186.5" y="864" font-size="26.5" textLength="92.24" lengthAdjust="spacingAndGlyphs" stroke="#D9977F" stroke-width="0.4">Color C</text>
<text x="440.45" y="864" font-size="26.5" text-anchor="middle" textLength="85.88" lengthAdjust="spacingAndGlyphs" stroke="#fff" stroke-width="0.45"><tspan stroke-width="0.22">½</tspan> yard</text>
<text x="631.9" y="864" font-size="26.5" text-anchor="middle" textLength="85.88" lengthAdjust="spacingAndGlyphs" stroke="#fff" stroke-width="0.45"><tspan stroke-width="0.22">⅞</tspan> yard</text>
<text x="812.4" y="864" font-size="26.5" text-anchor="middle" textLength="75.13" lengthAdjust="spacingAndGlyphs" stroke="#fff" stroke-width="0.45">1 yard</text>
<text x="1008" y="864" font-size="26.5" text-anchor="middle" textLength="120.19" lengthAdjust="spacingAndGlyphs" stroke="#fff" stroke-width="0.45">1-<tspan stroke-width="0.22">¼</tspan> yards</text>
<text x="1218.2" y="864" font-size="26.5" text-anchor="middle" textLength="120.19" lengthAdjust="spacingAndGlyphs" stroke="#fff" stroke-width="0.45">1-<tspan stroke-width="0.22">½</tspan> yards</text>
<text x="186.5" y="908.65" font-size="26.5" textLength="94.58" lengthAdjust="spacingAndGlyphs" fill="#fff">Color D</text>
<text x="440.45" y="908.65" font-size="26.5" text-anchor="middle" textLength="85.88" lengthAdjust="spacingAndGlyphs" stroke="#fff" stroke-width="0.45"><tspan stroke-width="0.22">¼</tspan> yard</text>
<text x="631.9" y="908.65" font-size="26.5" text-anchor="middle" textLength="85.88" lengthAdjust="spacingAndGlyphs" stroke="#fff" stroke-width="0.45"><tspan stroke-width="0.22">½</tspan> yard</text>
<text x="812.4" y="908.65" font-size="26.5" text-anchor="middle" textLength="85.88" lengthAdjust="spacingAndGlyphs" stroke="#fff" stroke-width="0.45"><tspan stroke-width="0.22">¾</tspan> yard</text>
<text x="1008" y="908.65" font-size="26.5" text-anchor="middle" textLength="120.19" lengthAdjust="spacingAndGlyphs" stroke="#fff" stroke-width="0.45">1-<tspan stroke-width="0.22">⅛</tspan> yards</text>
<text x="1218.2" y="908.65" font-size="26.5" text-anchor="middle" textLength="120.19" lengthAdjust="spacingAndGlyphs" stroke="#fff" stroke-width="0.45">1-<tspan stroke-width="0.22">⅛</tspan> yards</text>
<text x="186.5" y="953.3" font-size="26.5" textLength="89.7" lengthAdjust="spacingAndGlyphs" fill="#fff">Color E</text>
<text x="440.45" y="953.3" font-size="26.5" text-anchor="middle" textLength="85.88" lengthAdjust="spacingAndGlyphs" stroke="#fff" stroke-width="0.45"><tspan stroke-width="0.22">¼</tspan> yard</text>
<text x="631.9" y="953.3" font-size="26.5" text-anchor="middle" textLength="85.88" lengthAdjust="spacingAndGlyphs" stroke="#fff" stroke-width="0.45"><tspan stroke-width="0.22">½</tspan> yard</text>
<text x="812.4" y="953.3" font-size="26.5" text-anchor="middle" textLength="85.88" lengthAdjust="spacingAndGlyphs" stroke="#fff" stroke-width="0.45"><tspan stroke-width="0.22">¾</tspan> yard</text>
<text x="1008" y="953.3" font-size="26.5" text-anchor="middle" textLength="120.19" lengthAdjust="spacingAndGlyphs" stroke="#fff" stroke-width="0.45">1-<tspan stroke-width="0.22">⅛</tspan> yards</text>
<text x="1218.2" y="953.3" font-size="26.5" text-anchor="middle" textLength="120.19" lengthAdjust="spacingAndGlyphs" stroke="#fff" stroke-width="0.45">1-<tspan stroke-width="0.22">⅛</tspan> yards</text>
<text x="186.5" y="997.95" font-size="26.5" textLength="88.68" lengthAdjust="spacingAndGlyphs" fill="#fff">Color F</text>
<text x="440.45" y="997.95" font-size="26.5" text-anchor="middle" textLength="85.88" lengthAdjust="spacingAndGlyphs" stroke="#fff" stroke-width="0.45"><tspan stroke-width="0.22">⅓</tspan> yard</text>
<text x="631.9" y="997.95" font-size="26.5" text-anchor="middle" textLength="85.88" lengthAdjust="spacingAndGlyphs" stroke="#fff" stroke-width="0.45"><tspan stroke-width="0.22">½</tspan> yard</text>
<text x="812.4" y="997.95" font-size="26.5" text-anchor="middle" textLength="120.19" lengthAdjust="spacingAndGlyphs" stroke="#fff" stroke-width="0.45">1-<tspan stroke-width="0.22">⅛</tspan> yards</text>
<text x="1008" y="997.95" font-size="26.5" text-anchor="middle" textLength="120.19" lengthAdjust="spacingAndGlyphs" stroke="#fff" stroke-width="0.45">1-<tspan stroke-width="0.22">½</tspan> yards</text>
<text x="1218.2" y="997.95" font-size="26.5" text-anchor="middle" textLength="120.19" lengthAdjust="spacingAndGlyphs" stroke="#fff" stroke-width="0.45">1-<tspan stroke-width="0.22">⅔</tspan> yards</text>
<text x="186.5" y="1042.6" font-size="26.5" textLength="92.45" lengthAdjust="spacingAndGlyphs" stroke="#97A7A2" stroke-width="0.4">Color G</text>
<text x="440.45" y="1042.6" font-size="26.5" text-anchor="middle" textLength="85.88" lengthAdjust="spacingAndGlyphs" stroke="#fff" stroke-width="0.45"><tspan stroke-width="0.22">⅓</tspan> yard</text>
<text x="631.9" y="1042.6" font-size="26.5" text-anchor="middle" textLength="85.88" lengthAdjust="spacingAndGlyphs" stroke="#fff" stroke-width="0.45"><tspan stroke-width="0.22">½</tspan> yard</text>
<text x="812.4" y="1042.6" font-size="26.5" text-anchor="middle" textLength="85.88" lengthAdjust="spacingAndGlyphs" stroke="#fff" stroke-width="0.45"><tspan stroke-width="0.22">⅔</tspan> yard</text>
<text x="1008" y="1042.6" font-size="26.5" text-anchor="middle" textLength="85.88" lengthAdjust="spacingAndGlyphs" stroke="#fff" stroke-width="0.45"><tspan stroke-width="0.22">⅔</tspan> yard</text>
<text x="1218.2" y="1042.6" font-size="26.5" text-anchor="middle" textLength="85.88" lengthAdjust="spacingAndGlyphs" stroke="#fff" stroke-width="0.45"><tspan stroke-width="0.22">⅞</tspan> yard</text>
<text x="186.5" y="1087.25" font-size="26.5" textLength="92.85" lengthAdjust="spacingAndGlyphs" stroke="#CDD8D5" stroke-width="0.4">Color H</text>
<text x="440.45" y="1087.25" font-size="26.5" text-anchor="middle" textLength="85.88" lengthAdjust="spacingAndGlyphs" stroke="#fff" stroke-width="0.45"><tspan stroke-width="0.22">⅓</tspan> yard</text>
<text x="631.9" y="1087.25" font-size="26.5" text-anchor="middle" textLength="85.88" lengthAdjust="spacingAndGlyphs" stroke="#fff" stroke-width="0.45"><tspan stroke-width="0.22">½</tspan> yard</text>
<text x="812.4" y="1087.25" font-size="26.5" text-anchor="middle" textLength="85.88" lengthAdjust="spacingAndGlyphs" stroke="#fff" stroke-width="0.45"><tspan stroke-width="0.22">⅔</tspan> yard</text>
<text x="1008" y="1087.25" font-size="26.5" text-anchor="middle" textLength="85.88" lengthAdjust="spacingAndGlyphs" stroke="#fff" stroke-width="0.45"><tspan stroke-width="0.22">⅔</tspan> yard</text>
<text x="1218.2" y="1087.25" font-size="26.5" text-anchor="middle" textLength="85.88" lengthAdjust="spacingAndGlyphs" stroke="#fff" stroke-width="0.45"><tspan stroke-width="0.22">⅞</tspan> yard</text>
<text x="186.5" y="1131.9" font-size="26.5" textLength="84" lengthAdjust="spacingAndGlyphs" fill="#fff">Color I</text>
<text x="440.45" y="1131.9" font-size="26.5" text-anchor="middle" textLength="85.88" lengthAdjust="spacingAndGlyphs" stroke="#fff" stroke-width="0.45"><tspan stroke-width="0.22">½</tspan> yard</text>
<text x="631.9" y="1131.9" font-size="26.5" text-anchor="middle" textLength="85.88" lengthAdjust="spacingAndGlyphs" stroke="#fff" stroke-width="0.45"><tspan stroke-width="0.22">⅞</tspan> yard</text>
<text x="812.4" y="1131.9" font-size="26.5" text-anchor="middle" textLength="75.13" lengthAdjust="spacingAndGlyphs" stroke="#fff" stroke-width="0.45">1 yard</text>
<text x="1008" y="1131.9" font-size="26.5" text-anchor="middle" textLength="120.19" lengthAdjust="spacingAndGlyphs" stroke="#fff" stroke-width="0.45">1-<tspan stroke-width="0.22">¼</tspan> yards</text>
<text x="1218.2" y="1131.9" font-size="26.5" text-anchor="middle" textLength="124.9" lengthAdjust="spacingAndGlyphs" stroke="#fff" stroke-width="0.45">2-<tspan stroke-width="0.22">½</tspan> yards</text>
<text x="186.5" y="1176.55" font-size="26.5" textLength="84" lengthAdjust="spacingAndGlyphs" stroke="#fff" stroke-width="0.4">Color J</text>
<text x="440.45" y="1176.55" font-size="26.5" text-anchor="middle" textLength="85.88" lengthAdjust="spacingAndGlyphs" stroke="#fff" stroke-width="0.45"><tspan stroke-width="0.22">¼</tspan> yard</text>
<text x="631.9" y="1176.55" font-size="26.5" text-anchor="middle" textLength="85.88" lengthAdjust="spacingAndGlyphs" stroke="#fff" stroke-width="0.45"><tspan stroke-width="0.22">½</tspan> yard</text>
<text x="812.4" y="1176.55" font-size="26.5" text-anchor="middle" textLength="85.88" lengthAdjust="spacingAndGlyphs" stroke="#fff" stroke-width="0.45"><tspan stroke-width="0.22">½</tspan> yard</text>
<text x="1008" y="1176.55" font-size="26.5" text-anchor="middle" textLength="85.88" lengthAdjust="spacingAndGlyphs" stroke="#fff" stroke-width="0.45"><tspan stroke-width="0.22">½</tspan> yard</text>
<text x="1218.2" y="1176.55" font-size="26.5" text-anchor="middle" textLength="75.13" lengthAdjust="spacingAndGlyphs" stroke="#fff" stroke-width="0.45">1 yard</text>
<text x="186.5" y="1221.2" font-size="26.5" textLength="100.2" lengthAdjust="spacingAndGlyphs" stroke="#fff" stroke-width="0.4">Binding</text>
<text x="440.45" y="1221.2" font-size="26.5" text-anchor="middle" textLength="85.88" lengthAdjust="spacingAndGlyphs" stroke="#fff" stroke-width="0.45"><tspan stroke-width="0.22">½</tspan> yard</text>
<text x="631.9" y="1221.2" font-size="26.5" text-anchor="middle" textLength="85.88" lengthAdjust="spacingAndGlyphs" stroke="#fff" stroke-width="0.45"><tspan stroke-width="0.22">⅔</tspan> yard</text>
<text x="812.4" y="1221.2" font-size="26.5" text-anchor="middle" textLength="85.88" lengthAdjust="spacingAndGlyphs" stroke="#fff" stroke-width="0.45"><tspan stroke-width="0.22">¾</tspan> yard</text>
<text x="1008" y="1221.2" font-size="26.5" text-anchor="middle" textLength="85.88" lengthAdjust="spacingAndGlyphs" stroke="#fff" stroke-width="0.45"><tspan stroke-width="0.22">⅞</tspan> yard</text>
<text x="1218.2" y="1221.2" font-size="26.5" text-anchor="middle" textLength="85.88" lengthAdjust="spacingAndGlyphs" stroke="#fff" stroke-width="0.45"><tspan stroke-width="0.22">⅞</tspan> yard</text>
<text x="186.5" y="1265.85" font-size="26.5" textLength="103.5" lengthAdjust="spacingAndGlyphs" stroke="#fff" stroke-width="0.4">Backing</text>
<text x="440.45" y="1265.85" font-size="26.5" text-anchor="middle" textLength="135.83" lengthAdjust="spacingAndGlyphs" stroke="#fff" stroke-width="0.45">2-<tspan stroke-width="0.22">½</tspan> yards*</text>
<text x="631.9" y="1265.85" font-size="26.5" text-anchor="middle" textLength="92.12" lengthAdjust="spacingAndGlyphs" stroke="#fff" stroke-width="0.45">4 yards</text>
<text x="812.4" y="1265.85" font-size="26.5" text-anchor="middle" textLength="124.9" lengthAdjust="spacingAndGlyphs" stroke="#fff" stroke-width="0.45">6-<tspan stroke-width="0.22">⅔</tspan> yards</text>
<text x="1008" y="1265.85" font-size="26.5" text-anchor="middle" textLength="124.9" lengthAdjust="spacingAndGlyphs" stroke="#fff" stroke-width="0.45">8-<tspan stroke-width="0.22">½</tspan> yards</text>
<text x="1218.2" y="1265.85" font-size="26.5" text-anchor="middle" textLength="124.9" lengthAdjust="spacingAndGlyphs" stroke="#fff" stroke-width="0.45">9-<tspan stroke-width="0.22">¼</tspan> yards</text>
<text x="160.6" y="1237.4" font-size="45" textLength="544.5" lengthAdjust="spacingAndGlyphs" stroke="#fff" stroke-width="1.0" transform="rotate(-90 160.6 1237.4)">FABRIC REQUIREMENTS</text>
</g>
<g id="layouts">
<rect x="40.8" y="1285.8" width="1363.6" height="509.1" fill="none" stroke="#0b0b0b" stroke-width="3.1"/>
<text x="471.1" y="1319.4" font-size="26" textLength="533.7" lengthAdjust="spacingAndGlyphs" stroke="#fff" stroke-width="0.6">LAYOUT OPTIONS (shown in Baby/Throw):</text>
<text x="456.1" y="1365.5" font-size="26" text-anchor="middle" textLength="147.8" lengthAdjust="spacingAndGlyphs" stroke="#fff" stroke-width="0.6">HARMONIC</text>
<text x="821.9" y="1365.5" font-size="26" text-anchor="middle" textLength="122.5" lengthAdjust="spacingAndGlyphs" stroke="#fff" stroke-width="0.6">MELODIC</text>
<text x="1180.5" y="1365.5" font-size="26" text-anchor="middle" textLength="139.2" lengthAdjust="spacingAndGlyphs" stroke="#fff" stroke-width="0.6">RHYTHMIC</text>
<rect x="291.6" y="1373.5" width="326.6" height="396.2" fill="#566564"/>
<rect x="291.6" y="1373.5" width="326.6" height="16.58" fill="#95742B"/>
<rect x="291.6" y="1389.78" width="326.6" height="54.57" fill="#F8DCCF"/>
<path d="M318.14 1390.98 318.14 1443.16 292.28 1417.07ZM345.35 1390.98 345.35 1443.16 319.5 1417.07ZM372.57 1390.98 372.57 1443.16 346.71 1417.07ZM399.79 1390.98 399.79 1443.16 373.93 1417.07ZM427 1390.98 427 1443.16 401.15 1417.07ZM454.22 1390.98 454.22 1443.16 428.36 1417.07ZM481.44 1390.98 481.44 1443.16 455.58 1417.07ZM508.65 1390.98 508.65 1443.16 482.8 1417.07ZM535.87 1390.98 535.87 1443.16 510.01 1417.07ZM563.09 1390.98 563.09 1443.16 537.23 1417.07ZM590.3 1390.98 590.3 1443.16 564.45 1417.07ZM617.52 1390.98 617.52 1443.16 591.66 1417.07Z" fill="#D9977F"/>
<rect x="291.6" y="1444.06" width="326.6" height="16.58" fill="#95742B"/>
<rect x="291.6" y="1460.34" width="326.6" height="11.15" fill="#403833"/>
<rect x="291.6" y="1471.19" width="326.6" height="27.44" fill="#4B545E"/>
<path d="M305.21 1471.19h13.61v27.44h-13.61zM332.43 1471.19h13.61v27.44h-13.61zM359.64 1471.19h13.61v27.44h-13.61zM386.86 1471.19h13.61v27.44h-13.61zM414.08 1471.19h13.61v27.44h-13.61zM441.29 1471.19h13.61v27.44h-13.61zM468.51 1471.19h13.61v27.44h-13.61zM495.73 1471.19h13.61v27.44h-13.61zM522.94 1471.19h13.61v27.44h-13.61zM550.16 1471.19h13.61v27.44h-13.61zM577.38 1471.19h13.61v27.44h-13.61zM604.59 1471.19h13.61v27.44h-13.61z" fill="#698A86"/>
<rect x="291.6" y="1498.33" width="326.6" height="11.15" fill="#403833"/>
<rect x="291.6" y="1509.18" width="326.6" height="11.15" fill="#566564"/>
<rect x="291.6" y="1520.04" width="326.6" height="13.87" fill="#566564"/>
<path d="M291.6 1532.11h326.6v1.8h-326.6zM291.6 1532.11 305.21 1520.04 305.21 1532.11ZM305.21 1532.11 318.82 1520.04 318.82 1532.11ZM318.82 1532.11 332.43 1520.04 332.43 1532.11ZM332.43 1532.11 346.03 1520.04 346.03 1532.11ZM346.03 1532.11 359.64 1520.04 359.64 1532.11ZM359.64 1532.11 373.25 1520.04 373.25 1532.11ZM373.25 1532.11 386.86 1520.04 386.86 1532.11ZM386.86 1532.11 400.47 1520.04 400.47 1532.11ZM400.47 1532.11 414.08 1520.04 414.08 1532.11ZM414.08 1532.11 427.68 1520.04 427.68 1532.11ZM427.68 1532.11 441.29 1520.04 441.29 1532.11ZM441.29 1532.11 454.9 1520.04 454.9 1532.11ZM454.9 1532.11 468.51 1520.04 468.51 1532.11ZM468.51 1532.11 482.12 1520.04 482.12 1532.11ZM482.12 1532.11 495.73 1520.04 495.73 1532.11ZM495.73 1532.11 509.33 1520.04 509.33 1532.11ZM509.33 1532.11 522.94 1520.04 522.94 1532.11ZM522.94 1532.11 536.55 1520.04 536.55 1532.11ZM536.55 1532.11 550.16 1520.04 550.16 1532.11ZM550.16 1532.11 563.77 1520.04 563.77 1532.11ZM563.77 1532.11 577.38 1520.04 577.38 1532.11ZM577.38 1532.11 590.98 1520.04 590.98 1532.11ZM590.98 1532.11 604.59 1520.04 604.59 1532.11ZM604.59 1532.11 618.2 1520.04 618.2 1532.11Z" fill="#FFFFFF"/>
<rect x="291.6" y="1533.61" width="326.6" height="11.15" fill="#566564"/>
<rect x="291.6" y="1544.46" width="326.6" height="54.57" fill="#CDD8D5"/>
<path d="M291.6 1544.46 318.82 1571.75 318.82 1599.04 291.6 1571.75ZM318.82 1544.46 346.03 1544.46 318.82 1571.75ZM346.03 1571.75 346.03 1599.04 318.82 1599.04ZM346.03 1544.46 373.25 1571.75 373.25 1599.04 346.03 1571.75ZM373.25 1544.46 400.47 1544.46 373.25 1571.75ZM400.47 1571.75 400.47 1599.04 373.25 1599.04ZM400.47 1544.46 427.68 1571.75 427.68 1599.04 400.47 1571.75ZM427.68 1544.46 454.9 1544.46 427.68 1571.75ZM454.9 1571.75 454.9 1599.04 427.68 1599.04ZM454.9 1544.46 482.12 1571.75 482.12 1599.04 454.9 1571.75ZM482.12 1544.46 509.33 1544.46 482.12 1571.75ZM509.33 1571.75 509.33 1599.04 482.12 1599.04ZM509.33 1544.46 536.55 1571.75 536.55 1599.04 509.33 1571.75ZM536.55 1544.46 563.77 1544.46 536.55 1571.75ZM563.77 1571.75 563.77 1599.04 536.55 1599.04ZM563.77 1544.46 590.98 1571.75 590.98 1599.04 563.77 1571.75ZM590.98 1544.46 618.2 1544.46 590.98 1571.75ZM618.2 1571.75 618.2 1599.04 590.98 1599.04Z" fill="#97A7A2"/>
<rect x="291.6" y="1598.74" width="326.6" height="11.15" fill="#566564"/>
<rect x="291.6" y="1609.59" width="326.6" height="13.87" fill="#566564"/>
<path d="M291.6 1609.59h326.6v1.8h-326.6zM291.6 1611.39 305.21 1611.39 291.6 1623.46ZM305.21 1611.39 318.82 1611.39 305.21 1623.46ZM318.82 1611.39 332.43 1611.39 318.82 1623.46ZM332.43 1611.39 346.03 1611.39 332.43 1623.46ZM346.03 1611.39 359.64 1611.39 346.03 1623.46ZM359.64 1611.39 373.25 1611.39 359.64 1623.46ZM373.25 1611.39 386.86 1611.39 373.25 1623.46ZM386.86 1611.39 400.47 1611.39 386.86 1623.46ZM400.47 1611.39 414.08 1611.39 400.47 1623.46ZM414.08 1611.39 427.68 1611.39 414.08 1623.46ZM427.68 1611.39 441.29 1611.39 427.68 1623.46ZM441.29 1611.39 454.9 1611.39 441.29 1623.46ZM454.9 1611.39 468.51 1611.39 454.9 1623.46ZM468.51 1611.39 482.12 1611.39 468.51 1623.46ZM482.12 1611.39 495.73 1611.39 482.12 1623.46ZM495.73 1611.39 509.33 1611.39 495.73 1623.46ZM509.33 1611.39 522.94 1611.39 509.33 1623.46ZM522.94 1611.39 536.55 1611.39 522.94 1623.46ZM536.55 1611.39 550.16 1611.39 536.55 1623.46ZM550.16 1611.39 563.77 1611.39 550.16 1623.46ZM563.77 1611.39 577.38 1611.39 563.77 1623.46ZM577.38 1611.39 590.98 1611.39 577.38 1623.46ZM590.98 1611.39 604.59 1611.39 590.98 1623.46ZM604.59 1611.39 618.2 1611.39 604.59 1623.46Z" fill="#FFFFFF"/>
<rect x="291.6" y="1623.16" width="326.6" height="11.15" fill="#566564"/>
<rect x="291.6" y="1634.02" width="326.6" height="11.15" fill="#403833"/>
<rect x="291.6" y="1644.87" width="326.6" height="27.44" fill="#698A86"/>
<path d="M305.21 1644.87h13.61v27.44h-13.61zM332.43 1644.87h13.61v27.44h-13.61zM359.64 1644.87h13.61v27.44h-13.61zM386.86 1644.87h13.61v27.44h-13.61zM414.08 1644.87h13.61v27.44h-13.61zM441.29 1644.87h13.61v27.44h-13.61zM468.51 1644.87h13.61v27.44h-13.61zM495.73 1644.87h13.61v27.44h-13.61zM522.94 1644.87h13.61v27.44h-13.61zM550.16 1644.87h13.61v27.44h-13.61zM577.38 1644.87h13.61v27.44h-13.61zM604.59 1644.87h13.61v27.44h-13.61z" fill="#4B545E"/>
<rect x="291.6" y="1672.01" width="326.6" height="11.15" fill="#403833"/>
<rect x="291.6" y="1682.86" width="326.6" height="16.58" fill="#95742B"/>
<rect x="291.6" y="1699.14" width="326.6" height="54.57" fill="#F8DCCF"/>
<path d="M292.28 1700.34 292.28 1752.52 318.14 1726.43ZM319.5 1700.34 319.5 1752.52 345.35 1726.43ZM346.71 1700.34 346.71 1752.52 372.57 1726.43ZM373.93 1700.34 373.93 1752.52 399.79 1726.43ZM401.15 1700.34 401.15 1752.52 427 1726.43ZM428.36 1700.34 428.36 1752.52 454.22 1726.43ZM455.58 1700.34 455.58 1752.52 481.44 1726.43ZM482.8 1700.34 482.8 1752.52 508.65 1726.43ZM510.01 1700.34 510.01 1752.52 535.87 1726.43ZM537.23 1700.34 537.23 1752.52 563.09 1726.43ZM564.45 1700.34 564.45 1752.52 590.3 1726.43ZM591.66 1700.34 591.66 1752.52 617.52 1726.43Z" fill="#D9977F"/>
<rect x="291.6" y="1753.42" width="326.6" height="16.28" fill="#95742B"/>
<rect x="656.1" y="1373.5" width="329.6" height="396.2" fill="#566564"/>
<rect x="656.1" y="1373.5" width="329.6" height="16.58" fill="#95742B"/>
<rect x="656.1" y="1389.78" width="329.6" height="54.57" fill="#F8DCCF"/>
<path d="M683.57 1389.78 683.57 1444.36 656.1 1417.07ZM683.57 1389.78 711.03 1389.78 683.57 1417.07ZM683.57 1417.07 711.03 1444.36 683.57 1444.36ZM738.5 1389.78 738.5 1444.36 711.03 1417.07ZM738.5 1389.78 765.97 1389.78 738.5 1417.07ZM738.5 1417.07 765.97 1444.36 738.5 1444.36ZM793.43 1389.78 793.43 1444.36 765.97 1417.07ZM793.43 1389.78 820.9 1389.78 793.43 1417.07ZM793.43 1417.07 820.9 1444.36 793.43 1444.36ZM848.37 1389.78 848.37 1444.36 820.9 1417.07ZM848.37 1389.78 875.83 1389.78 848.37 1417.07ZM848.37 1417.07 875.83 1444.36 848.37 1444.36ZM903.3 1389.78 903.3 1444.36 875.83 1417.07ZM903.3 1389.78 930.77 1389.78 903.3 1417.07ZM903.3 1417.07 930.77 1444.36 903.3 1444.36ZM958.23 1389.78 958.23 1444.36 930.77 1417.07ZM958.23 1389.78 985.7 1389.78 958.23 1417.07ZM958.23 1417.07 985.7 1444.36 958.23 1444.36Z" fill="#D9977F"/>
<rect x="656.1" y="1444.06" width="329.6" height="16.58" fill="#95742B"/>
<rect x="656.1" y="1460.34" width="329.6" height="11.15" fill="#403833"/>
<rect x="656.1" y="1471.19" width="329.6" height="27.44" fill="#4B545E"/>
<path d="M669.83 1471.19h13.73v27.44h-13.73zM697.3 1471.19h13.73v27.44h-13.73zM724.77 1471.19h13.73v27.44h-13.73zM752.23 1471.19h13.73v27.44h-13.73zM779.7 1471.19h13.73v27.44h-13.73zM807.17 1471.19h13.73v27.44h-13.73zM834.63 1471.19h13.73v27.44h-13.73zM862.1 1471.19h13.73v27.44h-13.73zM889.57 1471.19h13.73v27.44h-13.73zM917.03 1471.19h13.73v27.44h-13.73zM944.5 1471.19h13.73v27.44h-13.73zM971.97 1471.19h13.73v27.44h-13.73z" fill="#698A86"/>
<rect x="656.1" y="1498.33" width="329.6" height="11.15" fill="#403833"/>
<rect x="656.1" y="1509.18" width="329.6" height="11.15" fill="#566564"/>
<rect x="656.1" y="1520.04" width="329.6" height="13.87" fill="#566564"/>
<path d="M656.1 1520.04 683.57 1520.04 669.83 1533.91ZM683.57 1533.91 711.03 1533.91 697.3 1520.04ZM711.03 1520.04 738.5 1520.04 724.77 1533.91ZM738.5 1533.91 765.97 1533.91 752.23 1520.04ZM765.97 1520.04 793.43 1520.04 779.7 1533.91ZM793.43 1533.91 820.9 1533.91 807.17 1520.04ZM820.9 1520.04 848.37 1520.04 834.63 1533.91ZM848.37 1533.91 875.83 1533.91 862.1 1520.04ZM875.83 1520.04 903.3 1520.04 889.57 1533.91ZM903.3 1533.91 930.77 1533.91 917.03 1520.04ZM930.77 1520.04 958.23 1520.04 944.5 1533.91ZM958.23 1533.91 985.7 1533.91 971.97 1520.04Z" fill="#FFFFFF"/>
<rect x="656.1" y="1533.61" width="329.6" height="11.15" fill="#566564"/>
<rect x="656.1" y="1544.46" width="329.6" height="54.57" fill="#CDD8D5"/>
<path d="M656.1 1571.75 683.57 1544.46 711.03 1571.75 683.57 1599.04ZM711.03 1571.75 738.5 1544.46 765.97 1571.75 738.5 1599.04ZM765.97 1571.75 793.43 1544.46 820.9 1571.75 793.43 1599.04ZM820.9 1571.75 848.37 1544.46 875.83 1571.75 848.37 1599.04ZM875.83 1571.75 903.3 1544.46 930.77 1571.75 903.3 1599.04ZM930.77 1571.75 958.23 1544.46 985.7 1571.75 958.23 1599.04Z" fill="#97A7A2"/>
<rect x="656.1" y="1598.74" width="329.6" height="11.15" fill="#566564"/>
<rect x="656.1" y="1609.59" width="329.6" height="13.87" fill="#566564"/>
<path d="M656.1 1609.59 683.57 1609.59 669.83 1623.46ZM683.57 1623.46 711.03 1623.46 697.3 1609.59ZM711.03 1609.59 738.5 1609.59 724.77 1623.46ZM738.5 1623.46 765.97 1623.46 752.23 1609.59ZM765.97 1609.59 793.43 1609.59 779.7 1623.46ZM793.43 1623.46 820.9 1623.46 807.17 1609.59ZM820.9 1609.59 848.37 1609.59 834.63 1623.46ZM848.37 1623.46 875.83 1623.46 862.1 1609.59ZM875.83 1609.59 903.3 1609.59 889.57 1623.46ZM903.3 1623.46 930.77 1623.46 917.03 1609.59ZM930.77 1609.59 958.23 1609.59 944.5 1623.46ZM958.23 1623.46 985.7 1623.46 971.97 1609.59Z" fill="#FFFFFF"/>
<rect x="656.1" y="1623.16" width="329.6" height="11.15" fill="#566564"/>
<rect x="656.1" y="1634.02" width="329.6" height="11.15" fill="#403833"/>
<rect x="656.1" y="1644.87" width="329.6" height="27.44" fill="#698A86"/>
<path d="M669.83 1644.87h13.73v27.44h-13.73zM697.3 1644.87h13.73v27.44h-13.73zM724.77 1644.87h13.73v27.44h-13.73zM752.23 1644.87h13.73v27.44h-13.73zM779.7 1644.87h13.73v27.44h-13.73zM807.17 1644.87h13.73v27.44h-13.73zM834.63 1644.87h13.73v27.44h-13.73zM862.1 1644.87h13.73v27.44h-13.73zM889.57 1644.87h13.73v27.44h-13.73zM917.03 1644.87h13.73v27.44h-13.73zM944.5 1644.87h13.73v27.44h-13.73zM971.97 1644.87h13.73v27.44h-13.73z" fill="#4B545E"/>
<rect x="656.1" y="1672.01" width="329.6" height="11.15" fill="#403833"/>
<rect x="656.1" y="1682.86" width="329.6" height="16.58" fill="#95742B"/>
<rect x="656.1" y="1699.14" width="329.6" height="54.57" fill="#F8DCCF"/>
<path d="M656.1 1699.14 683.57 1699.14 683.57 1726.43ZM683.57 1726.43 683.57 1753.72 656.1 1753.72ZM683.57 1699.14 683.57 1753.72 711.03 1726.43ZM711.03 1699.14 738.5 1699.14 738.5 1726.43ZM738.5 1726.43 738.5 1753.72 711.03 1753.72ZM738.5 1699.14 738.5 1753.72 765.97 1726.43ZM765.97 1699.14 793.43 1699.14 793.43 1726.43ZM793.43 1726.43 793.43 1753.72 765.97 1753.72ZM793.43 1699.14 793.43 1753.72 820.9 1726.43ZM820.9 1699.14 848.37 1699.14 848.37 1726.43ZM848.37 1726.43 848.37 1753.72 820.9 1753.72ZM848.37 1699.14 848.37 1753.72 875.83 1726.43ZM875.83 1699.14 903.3 1699.14 903.3 1726.43ZM903.3 1726.43 903.3 1753.72 875.83 1753.72ZM903.3 1699.14 903.3 1753.72 930.77 1726.43ZM930.77 1699.14 958.23 1699.14 958.23 1726.43ZM958.23 1726.43 958.23 1753.72 930.77 1753.72ZM958.23 1699.14 958.23 1753.72 985.7 1726.43Z" fill="#D9977F"/>
<rect x="656.1" y="1753.42" width="329.6" height="16.28" fill="#95742B"/>
<rect x="1020.2" y="1373.5" width="326.4" height="396.2" fill="#566564"/>
<rect x="1020.2" y="1373.5" width="326.4" height="16.58" fill="#95742B"/>
<clipPath id="cp352"><rect x="1020.2" y="1389.78" width="326.4" height="54.57"/></clipPath>
<rect x="1020.2" y="1389.78" width="326.4" height="54.57" fill="#F8DCCF"/>
<path d="M965.8 1389.78 993 1389.78 1047.4 1444.36 1020.2 1444.36ZM1020.2 1389.78 1047.4 1389.78 1101.8 1444.36 1074.6 1444.36ZM1074.6 1389.78 1101.8 1389.78 1156.2 1444.36 1129 1444.36ZM1129 1389.78 1156.2 1389.78 1210.6 1444.36 1183.4 1444.36ZM1183.4 1389.78 1210.6 1389.78 1265 1444.36 1237.8 1444.36ZM1237.8 1389.78 1265 1389.78 1319.4 1444.36 1292.2 1444.36ZM1292.2 1389.78 1319.4 1389.78 1373.8 1444.36 1346.6 1444.36ZM1346.6 1389.78 1373.8 1389.78 1428.2 1444.36 1401 1444.36Z" fill="#D9977F" clip-path="url(#cp352)"/>
<rect x="1020.2" y="1444.06" width="326.4" height="16.58" fill="#95742B"/>
<rect x="1020.2" y="1460.34" width="326.4" height="11.15" fill="#403833"/>
<rect x="1020.2" y="1471.19" width="326.4" height="27.44" fill="#4B545E"/>
<path d="M1033.8 1471.19h13.6v27.44h-13.6zM1061 1471.19h13.6v27.44h-13.6zM1088.2 1471.19h13.6v27.44h-13.6zM1115.4 1471.19h13.6v27.44h-13.6zM1142.6 1471.19h13.6v27.44h-13.6zM1169.8 1471.19h13.6v27.44h-13.6zM1197 1471.19h13.6v27.44h-13.6zM1224.2 1471.19h13.6v27.44h-13.6zM1251.4 1471.19h13.6v27.44h-13.6zM1278.6 1471.19h13.6v27.44h-13.6zM1305.8 1471.19h13.6v27.44h-13.6zM1333 1471.19h13.6v27.44h-13.6z" fill="#698A86"/>
<rect x="1020.2" y="1498.33" width="326.4" height="11.15" fill="#403833"/>
<rect x="1020.2" y="1509.18" width="326.4" height="11.15" fill="#566564"/>
<rect x="1020.2" y="1520.04" width="326.4" height="13.87" fill="#566564"/>
<path d="M1020.2 1533.91 1047.4 1533.91 1033.8 1520.04ZM1047.4 1533.91 1074.6 1533.91 1061 1520.04ZM1074.6 1533.91 1101.8 1533.91 1088.2 1520.04ZM1101.8 1533.91 1129 1533.91 1115.4 1520.04ZM1129 1533.91 1156.2 1533.91 1142.6 1520.04ZM1156.2 1533.91 1183.4 1533.91 1169.8 1520.04ZM1183.4 1533.91 1210.6 1533.91 1197 1520.04ZM1210.6 1533.91 1237.8 1533.91 1224.2 1520.04ZM1237.8 1533.91 1265 1533.91 1251.4 1520.04ZM1265 1533.91 1292.2 1533.91 1278.6 1520.04ZM1292.2 1533.91 1319.4 1533.91 1305.8 1520.04ZM1319.4 1533.91 1346.6 1533.91 1333 1520.04Z" fill="#FFFFFF"/>
<rect x="1020.2" y="1533.61" width="326.4" height="11.15" fill="#566564"/>
<rect x="1020.2" y="1544.46" width="326.4" height="54.57" fill="#CDD8D5"/>
<path d="M1020.2 1544.46 1047.4 1544.46 1020.2 1571.75ZM1020.2 1571.75 1047.4 1571.75 1047.4 1599.04ZM1047.4 1544.46 1074.6 1571.75 1047.4 1571.75ZM1074.6 1571.75 1074.6 1599.04 1047.4 1599.04ZM1074.6 1544.46 1101.8 1544.46 1074.6 1571.75ZM1074.6 1571.75 1101.8 1571.75 1101.8 1599.04ZM1101.8 1544.46 1129 1571.75 1101.8 1571.75ZM1129 1571.75 1129 1599.04 1101.8 1599.04ZM1129 1544.46 1156.2 1544.46 1129 1571.75ZM1129 1571.75 1156.2 1571.75 1156.2 1599.04ZM1156.2 1544.46 1183.4 1571.75 1156.2 1571.75ZM1183.4 1571.75 1183.4 1599.04 1156.2 1599.04ZM1183.4 1544.46 1210.6 1544.46 1183.4 1571.75ZM1183.4 1571.75 1210.6 1571.75 1210.6 1599.04ZM1210.6 1544.46 1237.8 1571.75 1210.6 1571.75ZM1237.8 1571.75 1237.8 1599.04 1210.6 1599.04ZM1237.8 1544.46 1265 1544.46 1237.8 1571.75ZM1237.8 1571.75 1265 1571.75 1265 1599.04ZM1265 1544.46 1292.2 1571.75 1265 1571.75ZM1292.2 1571.75 1292.2 1599.04 1265 1599.04ZM1292.2 1544.46 1319.4 1544.46 1292.2 1571.75ZM1292.2 1571.75 1319.4 1571.75 1319.4 1599.04ZM1319.4 1544.46 1346.6 1571.75 1319.4 1571.75ZM1346.6 1571.75 1346.6 1599.04 1319.4 1599.04Z" fill="#97A7A2"/>
<rect x="1020.2" y="1598.74" width="326.4" height="11.15" fill="#566564"/>
<rect x="1020.2" y="1609.59" width="326.4" height="13.87" fill="#566564"/>
<path d="M1020.2 1609.59 1047.4 1609.59 1033.8 1623.46ZM1047.4 1609.59 1074.6 1609.59 1061 1623.46ZM1074.6 1609.59 1101.8 1609.59 1088.2 1623.46ZM1101.8 1609.59 1129 1609.59 1115.4 1623.46ZM1129 1609.59 1156.2 1609.59 1142.6 1623.46ZM1156.2 1609.59 1183.4 1609.59 1169.8 1623.46ZM1183.4 1609.59 1210.6 1609.59 1197 1623.46ZM1210.6 1609.59 1237.8 1609.59 1224.2 1623.46ZM1237.8 1609.59 1265 1609.59 1251.4 1623.46ZM1265 1609.59 1292.2 1609.59 1278.6 1623.46ZM1292.2 1609.59 1319.4 1609.59 1305.8 1623.46ZM1319.4 1609.59 1346.6 1609.59 1333 1623.46Z" fill="#FFFFFF"/>
<rect x="1020.2" y="1623.16" width="326.4" height="11.15" fill="#566564"/>
<rect x="1020.2" y="1634.02" width="326.4" height="11.15" fill="#403833"/>
<rect x="1020.2" y="1644.87" width="326.4" height="27.44" fill="#698A86"/>
<path d="M1033.8 1644.87h13.6v27.44h-13.6zM1061 1644.87h13.6v27.44h-13.6zM1088.2 1644.87h13.6v27.44h-13.6zM1115.4 1644.87h13.6v27.44h-13.6zM1142.6 1644.87h13.6v27.44h-13.6zM1169.8 1644.87h13.6v27.44h-13.6zM1197 1644.87h13.6v27.44h-13.6zM1224.2 1644.87h13.6v27.44h-13.6zM1251.4 1644.87h13.6v27.44h-13.6zM1278.6 1644.87h13.6v27.44h-13.6zM1305.8 1644.87h13.6v27.44h-13.6zM1333 1644.87h13.6v27.44h-13.6z" fill="#4B545E"/>
<rect x="1020.2" y="1672.01" width="326.4" height="11.15" fill="#403833"/>
<rect x="1020.2" y="1682.86" width="326.4" height="16.58" fill="#95742B"/>
<clipPath id="cp375"><rect x="1020.2" y="1699.14" width="326.4" height="54.57"/></clipPath>
<rect x="1020.2" y="1699.14" width="326.4" height="54.57" fill="#F8DCCF"/>
<path d="M965.8 1699.14 993 1699.14 1047.4 1753.72 1020.2 1753.72ZM1020.2 1699.14 1047.4 1699.14 1101.8 1753.72 1074.6 1753.72ZM1074.6 1699.14 1101.8 1699.14 1156.2 1753.72 1129 1753.72ZM1129 1699.14 1156.2 1699.14 1210.6 1753.72 1183.4 1753.72ZM1183.4 1699.14 1210.6 1699.14 1265 1753.72 1237.8 1753.72ZM1237.8 1699.14 1265 1699.14 1319.4 1753.72 1292.2 1753.72ZM1292.2 1699.14 1319.4 1699.14 1373.8 1753.72 1346.6 1753.72ZM1346.6 1699.14 1373.8 1699.14 1428.2 1753.72 1401 1753.72Z" fill="#D9977F" clip-path="url(#cp375)"/>
<rect x="1020.2" y="1753.42" width="326.4" height="16.28" fill="#95742B"/>
<path d="M177.9 1381.8L299.8 1381.8M177.3 1422.9L299.8 1398.8M177.3 1465.5L302.9 1420.2M178.3 1505.7L299.8 1479.8M178.3 1546.8L310.8 1489.3M177.9 1587L305.6 1506.8M177.3 1626L297.7 1563.7M177.9 1667.5L299.2 1588M176.3 1709.1L295.6 1627.9M175.8 1749.3L336.1 1615.6" fill="none" stroke="#0a0a0a" stroke-width="1.7" stroke-linecap="round"/>
<text x="80.8" y="1393.2" font-size="26.5" textLength="90.3" lengthAdjust="spacingAndGlyphs" stroke="#fff" stroke-width="0.5">Color A</text>
<text x="80.8" y="1433.7" font-size="26.5" textLength="90.7" lengthAdjust="spacingAndGlyphs" stroke="#fff" stroke-width="0.5">Color B</text>
<text x="80.8" y="1474.6" font-size="26.5" textLength="90.7" lengthAdjust="spacingAndGlyphs" stroke="#fff" stroke-width="0.5">Color C</text>
<text x="80.8" y="1515.3" font-size="26.5" textLength="93" lengthAdjust="spacingAndGlyphs" stroke="#fff" stroke-width="0.5">Color D</text>
<text x="80.8" y="1555.8" font-size="26.5" textLength="88.2" lengthAdjust="spacingAndGlyphs" stroke="#fff" stroke-width="0.5">Color E</text>
<text x="80.8" y="1596.3" font-size="26.5" textLength="87.2" lengthAdjust="spacingAndGlyphs" stroke="#fff" stroke-width="0.5">Color F</text>
<text x="80.8" y="1636.4" font-size="26.5" textLength="90.9" lengthAdjust="spacingAndGlyphs" stroke="#fff" stroke-width="0.5">Color G</text>
<text x="80.8" y="1676.7" font-size="26.5" textLength="91.3" lengthAdjust="spacingAndGlyphs" stroke="#fff" stroke-width="0.5">Color H</text>
<text x="80.8" y="1717.8" font-size="26.5" textLength="82.6" lengthAdjust="spacingAndGlyphs" stroke="#fff" stroke-width="0.5">Color I</text>
<text x="80.8" y="1757.6" font-size="26.5" textLength="82.6" lengthAdjust="spacingAndGlyphs" stroke="#fff" stroke-width="0.5">Color J</text>
</g>
<g id="notes">
<text x="52.9" y="1826.7" font-size="15.5">•</text>
<text x="52.9" y="1862.1" font-size="15.5">•</text>
<text x="68.9" y="1828.8" font-size="29.5" textLength="763.1" lengthAdjust="spacingAndGlyphs" word-spacing="-1.2" stroke="#fff" stroke-width="0.7">Fabric requirements assume non-directional fabrics.</text>
<text x="68.9" y="1863.9" font-size="29.5" textLength="1238.1" lengthAdjust="spacingAndGlyphs" word-spacing="-1.2" stroke="#fff" stroke-width="0.7">Backing requirements assume a horizontal seam with at least 4" overage on all sides.</text>
<text x="51.9" y="1904.4" font-size="29.5" textLength="1180.1" lengthAdjust="spacingAndGlyphs" word-spacing="-1.2" stroke="#fff" stroke-width="0.7">*1-<tspan stroke-width="0.22">½</tspan> yards can be used with no seam but will only leave 2.75" overage on all sides.</text>
</g>
<g id="logo">
<path d="M161 1925 264 1984.3 264 2103.2 161 2162.5 57.7 2103.2 57.7 1984.3Z" fill="#4A4646"/>
<text x="102.5" y="2020" font-size="39.5" font-family="Liberation Serif, serif" textLength="55" lengthAdjust="spacingAndGlyphs" fill="#F3EBE9" stroke="#F3EBE9" stroke-width="0.7">LO</text>
<text x="175" y="2020" font-size="39.5" font-family="Liberation Serif, serif" textLength="34" lengthAdjust="spacingAndGlyphs" fill="#C9A3B0" stroke="#C9A3B0" stroke-width="0.7">&amp;</text>
<text x="71.5" y="2058.5" font-size="39.5" font-family="Liberation Serif, serif" textLength="182" lengthAdjust="spacingAndGlyphs" fill="#F3EBE9" stroke="#F3EBE9" stroke-width="0.7">BEHOLD</text>
<text x="76" y="2085.5" font-size="14.5" textLength="170.5" lengthAdjust="spacing" fill="#F3EBE9" stroke="#F3EBE9" stroke-width="0.2">STITCHERY</text>
</g>
<g id="info">
<text x="281" y="2005" font-size="27" textLength="804" lengthAdjust="spacingAndGlyphs" word-spacing="-1" stroke="#fff" stroke-width="0.4">The cover quilt is the Throw size using: Robert Kaufman KONA:</text>
<text x="281" y="2035.8" font-size="27" textLength="819" lengthAdjust="spacingAndGlyphs" word-spacing="-1" stroke="#fff" stroke-width="0.4">Leather(A); Art Gallery Fabrics Pure Solids: Sweet Macadamia(B),</text>
<text x="281" y="2066.6" font-size="27" textLength="811.5" lengthAdjust="spacingAndGlyphs" word-spacing="-1" stroke="#fff" stroke-width="0.4">Snapdragon(C), Slate(D), Spruce(E), Lava Rock(F), Ocean Fog(G),</text>
<text x="281" y="2097.4" font-size="27" textLength="551.5" lengthAdjust="spacingAndGlyphs" word-spacing="-1" stroke="#fff" stroke-width="0.4">Glacier(H), Northern Waters(I) and Snow(J).</text>
<text x="284" y="2157.5" font-size="30" textLength="878.5" lengthAdjust="spacingAndGlyphs" word-spacing="-1" stroke="#fff" stroke-width="0.7">Copyright © 2024 Lo &amp; Behold Stitchery. All Rights Reserved.</text>
<text x="294" y="2192.5" font-size="30" textLength="859.5" lengthAdjust="spacingAndGlyphs" word-spacing="-1" stroke="#fff" stroke-width="0.7">For personal use only. Duplication of any kind is prohibited.</text>
</g>
<g id="barcode">
<text x="1205.3" y="1944" font-size="37" textLength="137.5" lengthAdjust="spacingAndGlyphs" stroke="#fff" stroke-width="0.3">LBS 130</text>
<path d="M1159.35 1952.5h2.47V2118h-2.47zM1164.09 1952.5h2.47V2118h-2.47zM1168.82 1952.5h7.21V2118h-7.21zM1178.3 1952.5h4.84V2110h-4.84zM1185.4 1952.5h4.84V2110h-4.84zM1192.51 1952.5h7.21V2110h-7.21zM1201.98 1952.5h7.21V2110h-7.21zM1211.46 1952.5h4.84V2110h-4.84zM1218.56 1952.5h2.47V2110h-2.47zM1228.03 1952.5h4.84V2110h-4.84zM1237.51 1952.5h4.84V2110h-4.84zM1246.98 1952.5h2.47V2110h-2.47zM1251.72 1952.5h2.47V2110h-2.47zM1256.46 1952.5h9.57V2110h-9.57zM1268.3 1952.5h2.47V2118h-2.47zM1273.03 1952.5h2.47V2118h-2.47zM1277.77 1952.5h2.47V2110h-2.47zM1289.61 1952.5h2.47V2110h-2.47zM1294.35 1952.5h2.47V2110h-2.47zM1301.46 1952.5h2.47V2110h-2.47zM1310.93 1952.5h7.21V2110h-7.21zM1322.77 1952.5h2.47V2110h-2.47zM1327.51 1952.5h7.21V2110h-7.21zM1336.98 1952.5h2.47V2110h-2.47zM1344.09 1952.5h2.47V2110h-2.47zM1351.19 1952.5h2.47V2110h-2.47zM1360.67 1952.5h2.47V2110h-2.47zM1370.14 1952.5h2.47V2118h-2.47zM1377.24 1952.5h2.47V2118h-2.47zM1381.98 1952.5h2.47V2118h-2.47z" fill="#000"/>
<text x="1144" y="2127" font-size="21.5" font-weight="700" textLength="9.6" lengthAdjust="spacingAndGlyphs" fill="#000">0</text>
<text x="1189.5" y="2127" font-size="21.5" font-weight="700" textLength="70.5" lengthAdjust="spacingAndGlyphs" fill="#000">787416</text>
<text x="1283" y="2127" font-size="21.5" font-weight="700" textLength="72" lengthAdjust="spacingAndGlyphs" fill="#000">380987</text>
</g>
</svg>
</body></html>
